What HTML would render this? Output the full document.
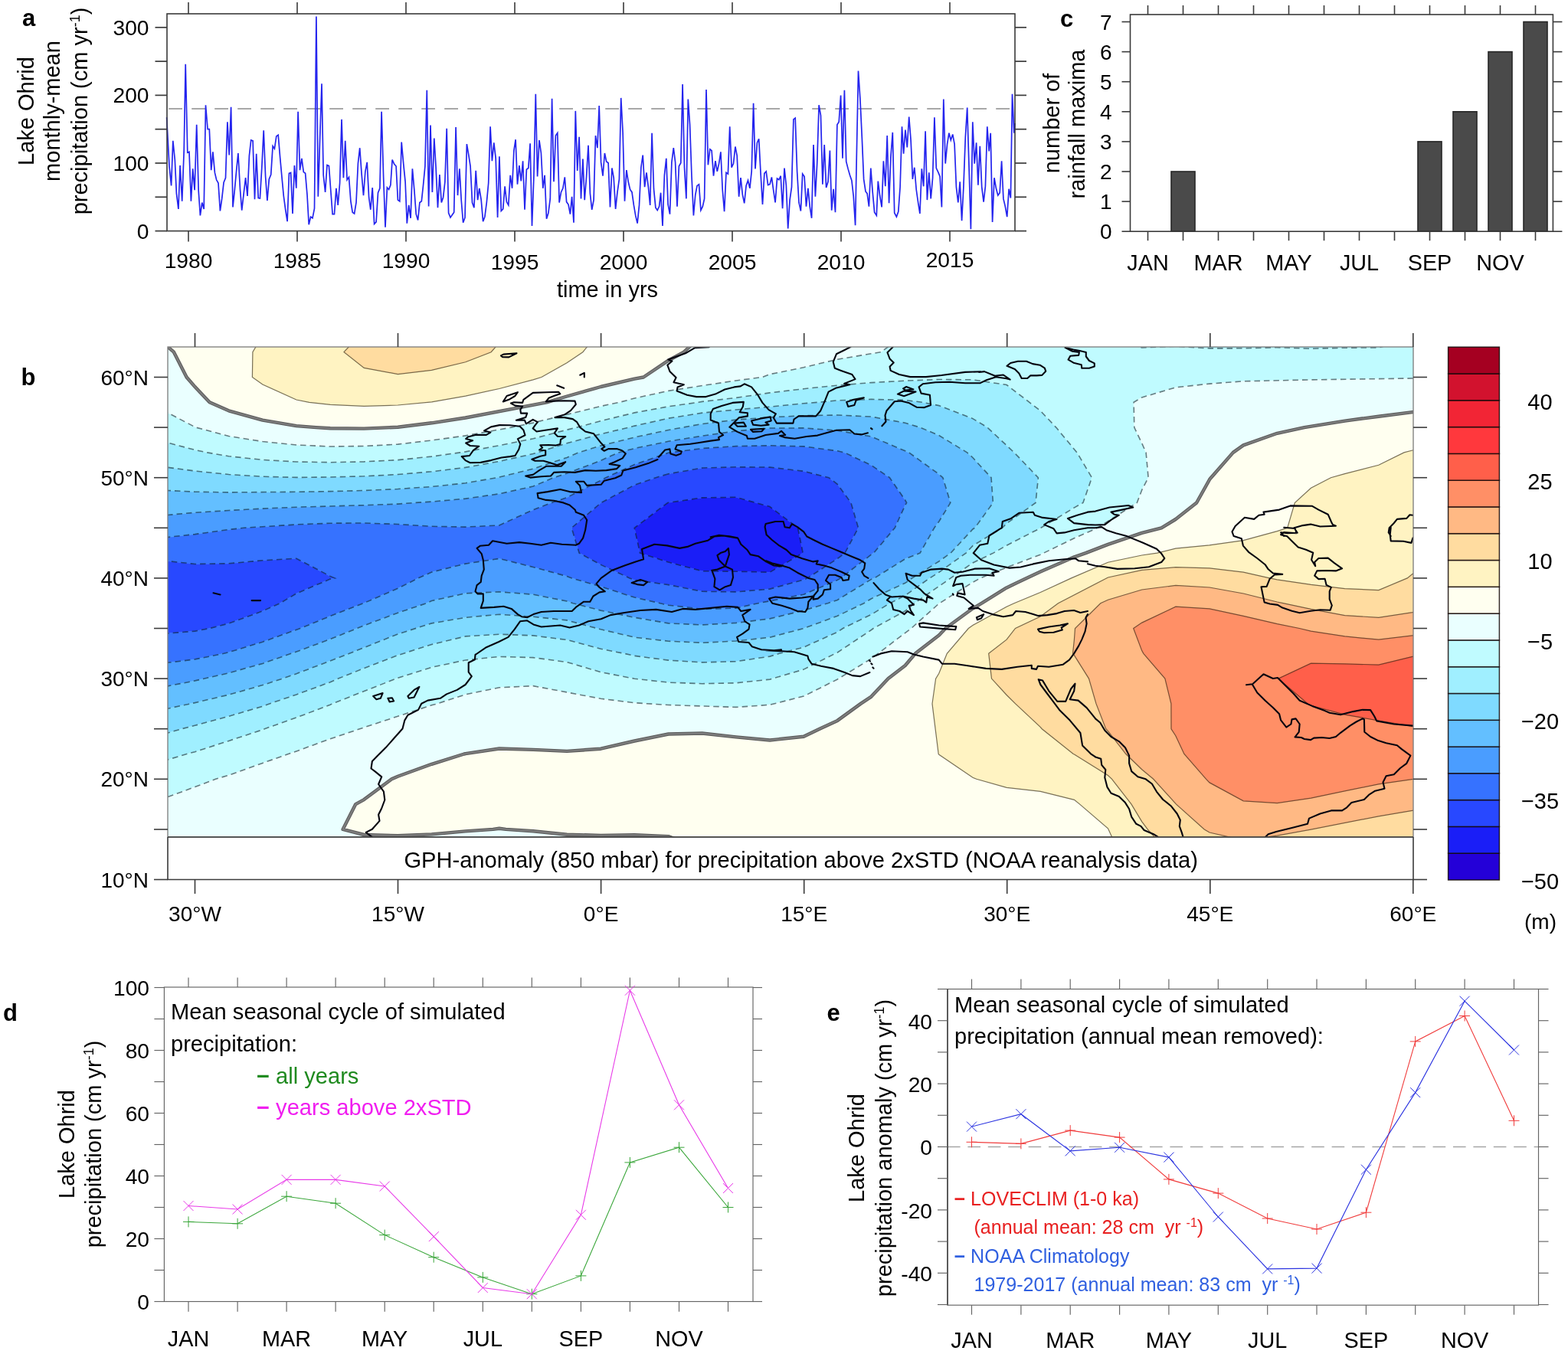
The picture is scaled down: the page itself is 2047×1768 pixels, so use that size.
<!DOCTYPE html>
<html lang="en"><head><meta charset="utf-8"><title>Lake Ohrid precipitation figure</title>
<style>html,body{margin:0;padding:0;background:#fff}body{width:2047px;height:1768px;overflow:hidden}svg{display:block}</style></head>
<body>
<svg width="2047" height="1768" viewBox="0 0 2047 1768" font-family='"Liberation Sans", sans-serif'>
<rect width="2047" height="1768" fill="#fff"/>
<clipPath id="mapclip"><rect x="219.0" y="453.0" width="1626.0" height="640.0"/></clipPath>
<g clip-path="url(#mapclip)">
<rect x="219.0" y="453.0" width="1626.0" height="640.0" fill="#eaffff"/>
<path d="M871.7 656.5L916.8 649.9L960.9 649.3L1005 661.6L1041.6 689.3L1048.2 722.1L1005 747.2L960.9 746.2L916.8 745.7L872.6 734.1L835.5 722.1L828.2 689.3Z" fill="#1a1ef7" stroke="#1a1ef7" stroke-width="0.6" fill-rule="evenodd"/>
<path d="M856.1 623.7L872.6 618.7L916.8 611L960.9 609.8L1005 610.1L1049.2 615.3L1082 623.7L1093.3 632.3L1110.9 656.5L1120.5 689.3L1103 722.1L1093.3 729.5L1054.1 754.9L1049.2 757.1L1005 769.1L960.9 772.9L916.8 772.3L872.6 763.6L828.4 757.5L822.1 754.9L784.3 737.4L756.2 722.1L746.2 689.3L784.6 656.5L828.4 633.2ZM872.6 656.3L871.7 656.5L828.2 689.3L835.5 722.1L872.6 734.1L916.8 745.7L960.9 746.2L1005 747.2L1048.2 722.1L1041.6 689.3L1005 661.6L960.9 649.3L916.8 649.9ZM179.3 754.9L210.3 731.7L254.5 736.5L298.6 735.8L342.8 731.8L386.9 729.2L431.1 752.4L437 754.9L431.1 756.1L386.9 775L365.5 787.7L342.8 797.9L298.6 814.1L273.7 820.5L254.5 824.1L210.3 827.8L183.7 820.5L166.2 811.9L166.2 764.5Z" fill="#2848ff" stroke="#2848ff" stroke-width="0.6" fill-rule="evenodd"/>
<path d="M874.5 590.9L916.8 585.5L960.9 582.6L1005 581.8L1049.2 582.9L1093.3 588.8L1102.3 590.9L1137.5 607.5L1161.4 623.7L1181.7 653L1183.6 656.5L1181.7 659.6L1168.2 689.3L1140.6 722.1L1137.5 724.1L1097.4 754.9L1093.3 757.4L1049.2 776.2L989.7 787.7L960.9 794.1L916.8 795.3L872.6 790.2L828.4 780.1L784.3 765.9L746.5 754.9L740.1 752.5L696 740.5L651.8 729.4L607.7 736.1L563.5 747.1L546.1 754.9L519.4 768.3L474.5 787.7L431.1 804.5L391.9 820.5L342.8 838.2L298.7 851.7L292.2 853.3L254.5 860.9L210.3 866.4L166.2 864.9L166.2 811.9L183.7 820.5L210.3 827.8L254.5 824.1L273.7 820.5L298.6 814.1L342.8 797.9L365.5 787.7L386.9 775L431.1 756.1L437 754.9L431.1 752.4L386.9 729.2L342.8 731.8L298.6 735.8L254.5 736.5L210.3 731.7L166.2 764.5L166.2 708.4L210.3 702.4L254.5 697.6L298.6 691.5L318.4 689.3L386.9 684.9L431.1 683.2L475.2 683L519.4 684.5L563.5 687.3L607.7 688.1L651.8 685.9L696 665.7L719.8 656.5L740.1 649.6L784.3 627.3L790.9 623.7L828.4 606.5L872.6 591.3ZM872.6 618.7L856.1 623.7L828.4 633.2L784.6 656.5L746.2 689.3L756.2 722.1L784.3 737.4L822.1 754.9L828.4 757.5L872.6 763.6L916.8 772.3L960.9 772.9L1005 769.1L1049.2 757.1L1054.1 754.9L1093.3 729.5L1103 722.1L1120.5 689.3L1110.9 656.5L1093.3 632.3L1082 623.7L1049.2 615.3L1005 610.1L960.9 609.8L916.8 611Z" fill="#3672ff" stroke="#3672ff" stroke-width="0.6" fill-rule="evenodd"/>
<path d="M807.4 590.9L828.4 585.5L872.6 576.3L916.8 569.2L960.9 562.8L1005 559L1049.2 558.9L1093.3 562.2L1137.5 570L1186.6 590.9L1225.8 619.2L1230.9 623.7L1240.8 656.5L1225.8 681L1219.7 689.3L1201.1 722.1L1181.7 729.8L1141.6 754.9L1137.5 756.4L1093.3 783.4L1080.6 787.7L1049.2 797.1L1005 807.9L960.9 813.4L916.8 815.9L872.6 813.9L828.4 806.3L784.3 797.1L748.1 787.7L740.1 785L696 776.2L651.8 772.8L607.7 774.8L563.5 784.5L556.7 787.7L519.4 800.2L475.2 816.8L431.1 834.6L386.9 851L342.8 866.4L298.6 878.8L254.5 888.9L210.3 897.6L166.2 901.2L166.2 864.9L210.3 866.4L254.5 860.9L292.2 853.3L298.6 851.7L342.8 838.2L391.9 820.5L431.1 804.5L474.5 787.7L519.4 768.3L546.1 754.9L563.5 747.1L607.7 736.1L651.8 729.4L696 740.5L740.1 752.5L746.5 754.9L784.3 765.9L828.4 780.1L872.6 790.2L916.8 795.3L960.9 794.1L989.7 787.7L1049.2 776.2L1093.3 757.4L1097.4 754.9L1137.5 724.1L1140.6 722.1L1168.2 689.3L1181.7 659.6L1183.6 656.5L1181.7 653L1161.4 623.7L1137.5 607.5L1102.3 590.9L1093.3 588.8L1049.2 582.9L1005 581.8L960.9 582.6L916.8 585.5L874.5 590.9L872.6 591.3L828.4 606.5L790.9 623.7L784.3 627.3L740.1 649.6L719.8 656.5L696 665.7L651.8 685.9L607.7 688.1L563.5 687.3L519.4 684.5L475.2 683L431.1 683.2L386.9 684.9L318.4 689.3L298.6 691.5L254.5 697.6L210.3 702.4L166.2 708.4L166.2 677.1L254.5 669.3L298.6 666.5L342.8 664.1L386.9 662.2L475.2 659.7L519.4 658.1L540.1 656.5L563.5 655.1L607.7 651.1L651.8 644.8L696 635L722.6 623.7L740.1 618.1L784.3 601.3Z" fill="#4a9dff" stroke="#4a9dff" stroke-width="0.6" fill-rule="evenodd"/>
<path d="M890.8 558.1L916.8 553.5L960.9 548.1L1005 544.9L1049.2 542.7L1093.3 542L1137.5 544.1L1181.7 552.2L1201.1 558.1L1225.8 568.5L1262.5 590.9L1269.9 597.5L1294 623.7L1296.4 656.5L1272.7 689.3L1269.9 691L1241.1 722.1L1225.8 733L1190.8 754.9L1181.7 761.3L1137.5 781.7L1127.8 787.7L1093.3 804.3L1049.2 820.5L1005 832.3L960.9 837L916.8 839.3L872.6 837.2L828.5 832.2L784.3 821.8L740.1 809.9L696 805.3L651.8 802.2L607.7 806.3L563.5 813.9L519.4 827.9L456.1 853.3L386.9 879.8L368.7 886.1L342.8 894.6L298.6 907.2L254.5 917.6L210.3 927.1L166.2 935L166.2 901.2L210.3 897.6L254.5 888.9L298.6 878.8L342.8 866.4L386.9 851L431.1 834.6L475.2 816.8L519.4 800.2L556.7 787.7L563.5 784.5L607.7 774.8L651.8 772.8L696 776.2L740.1 785L748.1 787.7L784.3 797.1L828.4 806.3L872.6 813.9L916.8 815.9L960.9 813.4L1005 807.9L1049.2 797.1L1080.6 787.7L1093.3 783.4L1137.5 756.4L1141.6 754.9L1181.7 729.8L1201.1 722.1L1219.7 689.3L1225.8 681L1240.8 656.5L1230.9 623.7L1225.8 619.2L1186.6 590.9L1137.5 570L1093.3 562.2L1049.2 558.9L1005 559L960.9 562.8L916.8 569.2L872.6 576.3L828.4 585.5L807.4 590.9L784.3 601.3L740.2 618.1L722.6 623.7L696 635L651.8 644.8L607.7 651.1L563.5 655.1L540.1 656.5L519.4 658.1L475.2 659.7L386.9 662.2L342.8 664.1L298.6 666.5L254.5 669.3L166.2 677.1L166.2 636.8L210.3 640L254.5 642.2L298.6 642.9L386.9 642.3L431.1 641.6L475.2 640.5L519.4 638.5L563.5 635.5L607.7 630.8L651.8 623.1L696 612.1L740.1 597.4L755.4 590.9L784.3 581.9L828.5 571L872.6 561.5Z" fill="#63bfff" stroke="#63bfff" stroke-width="0.6" fill-rule="evenodd"/>
<path d="M1068.1 525.3L1093.3 522.9L1137.5 521.4L1181.7 522.4L1203.9 525.3L1225.8 529.6L1269.9 546.6L1289 558.1L1324 590.9L1355.4 623.7L1352 656.5L1314.1 683.6L1308.4 689.3L1269.9 712.6L1261.1 722.1L1225.8 747.3L1213.7 754.9L1181.7 777.5L1161.7 787.7L1137.5 802.4L1100.4 820.5L1093.3 825.3L1049.2 845.1L1017.4 853.3L1005 857.1L960.9 863.7L916.8 864.9L872.6 862.1L828.4 856.4L814.8 853.3L784.3 847.3L740.1 835.5L696 829.9L651.8 828.2L607.7 830.9L563.5 841.5L519.4 855.6L475.2 872.6L441.5 886.1L431.1 890.7L386.9 907L351.7 918.9L342.8 922.3L298.6 935.3L254.5 947.3L237.3 951.7L210.3 959.5L166.2 970.9L166.2 935L210.3 927.1L254.5 917.6L298.6 907.2L342.8 894.6L368.7 886.1L386.9 879.8L456.1 853.3L519.4 827.9L563.5 813.9L607.7 806.3L651.8 802.2L696 805.3L740.1 809.9L784.3 821.8L828.5 832.2L872.6 837.2L916.8 839.3L960.9 837L1005 832.3L1049.2 820.5L1093.3 804.3L1127.8 787.7L1137.5 781.7L1181.7 761.3L1190.8 754.9L1225.8 733L1241.1 722.1L1269.9 691L1272.7 689.3L1296.4 656.5L1294 623.7L1269.9 597.5L1262.5 590.9L1225.8 568.5L1201.1 558.1L1181.7 552.2L1137.5 544.1L1093.3 542L1049.2 542.7L1005 544.9L960.9 548.1L916.8 553.5L872.6 561.5L828.4 571L784.3 581.9L755.4 590.9L740.1 597.4L696 612.1L651.8 623.1L607.7 630.8L563.5 635.5L519.4 638.5L475.2 640.5L431.1 641.6L386.9 642.3L298.6 642.9L254.5 642.2L210.3 640L166.2 636.8L166.2 600.4L210.3 609.2L254.5 615L298.6 619.5L342.8 622.3L386.9 623.4L431.1 623L475.2 621.8L519.4 619.5L563.5 615.8L607.7 610.4L651.8 602.4L696 592.6L740.1 578.8L784.3 566.7L821 558.1L828.4 556.1L872.6 546.2L916.8 539.1L960.9 535L1005 531.2L1049.2 526.7Z" fill="#7fdaff" stroke="#7fdaff" stroke-width="0.6" fill-rule="evenodd"/>
<path d="M1406 426.9L1888 426.9L1888 431.3L1843.9 442.3L1799.8 453.9L1755.6 454.2L1711.4 455.3L1667.3 453.7L1623.2 454.8L1579 454.9L1534.8 452.2L1490.7 454L1446.5 441.9ZM912 525.3L916.8 524.4L960.9 519.4L1005 512.9L1049.2 507.7L1093.3 503.2L1137.5 499.6L1181.7 497.2L1225.8 495.5L1269.9 495.8L1314.1 502.5L1358.2 536.3L1378.7 558.1L1406 590.9L1425.4 623.7L1413.9 656.5L1402.4 662.9L1358.8 689.3L1314.1 712.2L1296.7 722.1L1269.9 735L1193.7 787.7L1181.7 797.8L1140.2 820.5L1137.5 822.5L1093.3 852L1090.4 853.3L1049.2 874.1L1005 887.1L960.9 891.8L916.8 892.7L872.6 891.1L828.4 886.2L784.3 877.6L740.1 864.6L696 858.6L651.8 857.4L607.7 862L563.5 871.3L519.4 885.2L433.8 918.9L431.1 920.2L386.9 937L345.4 951.7L342.8 952.8L298.6 967.4L254.5 981.7L243.8 984.5L210.3 994.6L166.2 1010.7L166.2 970.9L210.3 959.5L237.3 951.7L254.5 947.3L298.6 935.3L342.8 922.3L351.7 918.9L386.9 907L431.1 890.7L441.5 886.1L475.2 872.6L519.4 855.6L563.5 841.5L607.7 830.9L651.8 828.2L696 829.9L740.2 835.5L784.3 847.3L814.8 853.3L828.4 856.4L872.6 862.1L916.8 864.9L960.9 863.7L1005 857.1L1017.4 853.3L1049.2 845.1L1093.3 825.3L1100.4 820.5L1137.5 802.4L1161.7 787.7L1181.7 777.5L1213.7 754.9L1225.8 747.3L1261.1 722.1L1269.9 712.6L1308.4 689.3L1314.1 683.6L1352 656.5L1355.4 623.7L1324 590.9L1289 558.1L1269.9 546.6L1225.8 529.6L1203.9 525.3L1181.7 522.4L1137.5 521.4L1093.3 522.9L1068.1 525.3L1049.2 526.7L1005 531.2L960.9 535L916.8 539.1L872.6 546.2L828.4 556.1L821 558.1L784.3 566.7L740.1 578.8L696 592.6L651.8 602.4L607.7 610.4L563.5 615.8L519.4 619.5L475.2 621.8L431.1 623L386.9 623.4L342.8 622.3L298.6 619.5L254.5 615L210.3 609.2L166.2 600.4L166.2 560.6L210.3 575.7L254.5 587.5L270.4 590.9L298.6 595.7L342.8 600.4L386.9 603L431.1 603.7L475.2 602.9L519.4 600.6L563.5 596.1L607.7 589.9L651.8 581.7L696 572.8L740.1 561.2L752.9 558.1L784.3 549.7L828.4 538.9L872.6 530.8Z" fill="#a0efff" stroke="#a0efff" stroke-width="0.6" fill-rule="evenodd"/>
<path d="M1149.8 459.7L1181.7 437.3L1185.3 426.9L1406 426.9L1446.5 441.9L1490.7 454L1534.8 452.2L1579 454.9L1623.2 454.8L1667.3 453.7L1711.4 455.3L1755.6 454.2L1799.8 453.9L1843.9 442.3L1888 431.3L1888.1 488.5L1858.1 492.5L1843.9 494L1711.4 495.9L1623.2 497.8L1579 501.1L1534.8 505.9L1490.7 518.9L1480.1 525.3L1480.8 558.1L1490.7 578.8L1496.1 590.9L1499.1 623.7L1490.7 639.8L1484.3 656.5L1432.8 689.3L1402.4 702.7L1358.2 724.2L1314.1 741L1279.9 754.9L1269.9 760.3L1225.8 788.1L1189.6 820.5L1137.5 860L1093.3 887L1049.2 909.1L1005 920.3L960.9 923.4L872.6 920.5L828.4 917.7L784.3 912.3L696 895.6L651.8 897.8L607.7 906.8L570.5 918.9L563.5 920.8L519.4 935.3L475.2 949.9L431.1 964.8L386.9 980.9L342.8 996.4L298.6 1012.2L281.5 1017.3L254.5 1027.6L210.3 1043.7L199.1 1050.1L180.6 1082.9L166.2 1106.4L166.2 1010.7L210.3 994.6L243.8 984.5L254.5 981.7L298.6 967.4L342.8 952.8L345.4 951.7L386.9 937L431.1 920.2L433.8 918.9L516.9 886.1L563.5 871.3L607.7 862L651.8 857.4L696 858.6L740.1 864.6L784.3 877.6L828.4 886.2L872.6 891.1L916.8 892.7L960.9 891.8L1005 887.1L1049.2 874.1L1090.4 853.3L1093.3 852L1137.5 822.5L1140.2 820.5L1181.7 797.8L1193.7 787.7L1269.9 735L1296.7 722.1L1314.1 712.2L1358.8 689.3L1402.4 662.9L1413.9 656.5L1425.4 623.7L1406 590.9L1378.7 558.1L1358.2 536.3L1314.1 502.5L1269.9 495.8L1225.8 495.5L1181.7 497.2L1137.5 499.6L1093.3 503.2L1049.2 507.7L1005 512.9L960.9 519.4L916.8 524.4L912 525.3L872.6 530.8L828.4 538.9L784.3 549.7L752.9 558.1L740.1 561.2L696 572.8L651.8 581.7L607.7 589.9L563.5 596.1L519.4 600.6L475.2 602.9L431.1 603.7L386.9 603L342.8 600.4L298.6 595.7L270.4 590.9L254.5 587.5L210.3 575.7L166.2 560.6L166.2 501L193.8 525.3L210.3 534.4L254.5 557.6L255.8 558.1L298.6 569.5L342.8 576.5L386.9 581L431.1 583L475.2 582.5L519.4 580.1L563.5 575L607.7 568.9L651.8 560.9L667.3 558.1L696 552.1L784.3 530.4L809 525.3L828.4 520L872.6 510.4L916.8 503.5L960.9 497L995.4 492.5L1005 488.7L1049.2 479.7L1093.3 469.2Z" fill="#c0fbff" stroke="#c0fbff" stroke-width="0.6" fill-rule="evenodd"/>
<path d="M166.2 426.9L190.6 426.9L210.3 445.3L226.9 459.7L243.6 492.5L254.5 505.1L273.6 525.3L298.6 536.3L342.8 548.6L386.9 556.1L412.6 558.1L431.1 559.2L475.2 559.6L519.4 557.7L563.5 552.3L607.7 545.5L713.8 525.3L740.1 517.5L784.3 505L828.4 494.6L840.1 492.5L872.6 470.7L892.8 459.7L916.8 437.2L921.9 426.9L1185.3 426.9L1181.7 437.3L1149.8 459.7L1093.3 469.2L1049.2 479.7L1005 488.7L995.4 492.5L960.9 497L916.8 503.5L872.6 510.4L828.4 520L809 525.3L784.3 530.4L696 552.1L667.3 558.1L607.7 568.9L563.5 575L519.4 580.1L475.2 582.5L431.1 583L386.9 581L342.8 576.5L298.6 569.5L255.8 558.1L254.5 557.6L210.3 534.4L193.8 525.3L166.2 501ZM1858.1 492.5L1888.1 488.5L1888 533.9L1843.9 538.1L1799.8 543.7L1755.6 549.6L1702.8 558.1L1667.3 565.8L1623.2 581.4L1609.8 590.9L1581 623.7L1579 626.2L1562.1 656.5L1534.8 678L1516.2 689.3L1490.7 695.8L1446.6 710.9L1417.4 722.1L1402.4 727.3L1358.2 746.6L1340.1 754.9L1314.1 767.4L1281.6 787.7L1269.9 794.5L1234.3 820.5L1225.8 829.6L1195 853.3L1181.7 869L1159.6 886.1L1137.5 909.6L1123.6 918.9L1093.3 940.9L1070 951.7L1049.2 961.8L1005 966.5L960.9 962.4L916.8 957.5L872.6 958.5L828.4 967.5L784.3 977.7L740.1 980.9L696 978.9L651.8 977.5L607.7 984.1L605.9 984.5L563.5 997.8L519.4 1013.8L511.3 1017.3L475.2 1044.1L464.3 1050.1L447.6 1082.9L475.2 1090L519.4 1091.3L563.5 1089.4L607.7 1085.4L643.6 1082.9L651.8 1081.8L660.4 1082.9L696 1085.3L740.1 1089.7L784.3 1090.9L828.4 1090.1L872.6 1092.1L916.8 1108.7L936.2 1115.7L960.9 1128.4L1002.2 1148.5L166.2 1148.5L166.2 1106.4L180.6 1082.9L199.1 1050.1L210.3 1043.7L254.5 1027.6L281.5 1017.3L298.6 1012.2L342.8 996.4L386.9 980.9L431.1 964.8L475.2 949.9L519.4 935.3L563.5 920.8L570.5 918.9L607.7 906.8L651.8 897.8L696 895.6L784.3 912.3L828.4 917.7L872.6 920.5L960.9 923.4L1005 920.3L1049.2 909.1L1093.3 887L1137.5 860L1189.6 820.5L1225.8 788.1L1269.9 760.3L1279.9 754.9L1314.1 741L1358.2 724.2L1402.4 702.7L1432.8 689.3L1484.3 656.5L1490.7 639.8L1499.1 623.7L1496.1 590.9L1490.7 578.8L1480.8 558.1L1480.1 525.3L1490.7 518.9L1534.8 505.9L1579 501.1L1623.2 497.8L1711.5 495.9L1843.9 494Z" fill="#eaffff" stroke="#eaffff" stroke-width="0.6" fill-rule="evenodd"/>
<path d="M190.6 426.9L345.8 426.9L342.8 438L329.9 459.7L329.4 492.5L342.8 502L386.9 522L403.6 525.3L431.1 528.3L475.2 530.3L519.4 529L563.5 524.9L607.7 517.1L651.8 507.5L696 495.8L706.9 492.5L740.2 473.8L760.9 459.7L784.3 431L802.7 426.9L921.9 426.9L916.8 437.2L892.8 459.7L872.6 470.7L840.1 492.5L828.4 494.6L784.3 505L740.1 517.5L713.8 525.3L607.7 545.5L563.5 552.3L519.4 557.7L475.2 559.6L431.1 559.2L412.6 558.1L386.9 556.1L342.8 548.6L298.6 536.3L273.6 525.3L254.5 505.1L243.6 492.5L226.9 459.7L210.3 445.3ZM1702.8 558.1L1755.6 549.6L1799.8 543.7L1843.9 538.1L1888 533.9L1888 583.6L1843.9 588L1832.9 590.9L1799.8 607.3L1755.6 618.6L1737.4 623.7L1711.4 637.3L1690.3 656.5L1680.7 689.3L1667.3 693.6L1623.2 705.7L1579 711.8L1534.8 716.2L1510.6 722.1L1490.7 725L1446.5 734.2L1398.6 754.9L1358.2 773.5L1323.9 787.7L1314.1 792.3L1269.9 816.4L1264.3 820.5L1236.3 853.3L1225.8 879.2L1221.6 886.1L1217 918.9L1225.2 984.5L1225.8 985.2L1269.9 1015.3L1274.8 1017.3L1314.1 1028.3L1358.2 1033.3L1402.4 1044.4L1409.6 1050.1L1446.5 1081.8L1462 1115.7L1486.6 1148.5L1002.2 1148.5L960.9 1128.4L936.2 1115.7L916.8 1108.7L872.6 1092.1L828.4 1090.1L784.3 1090.9L740.1 1089.7L696 1085.3L660.4 1082.9L651.8 1081.8L643.6 1082.9L607.7 1085.4L563.5 1089.4L519.4 1091.3L475.2 1090L447.6 1082.9L464.3 1050.1L475.2 1044.1L511.3 1017.3L519.4 1013.8L563.5 997.8L605.9 984.5L607.7 984.1L651.8 977.5L696 978.9L740.1 980.9L784.3 977.7L828.4 967.5L872.6 958.5L916.7 957.5L960.9 962.4L1005 966.5L1049.2 961.8L1070 951.7L1093.3 940.9L1123.6 918.9L1137.5 909.6L1159.6 886.1L1181.7 869L1195 853.3L1225.8 829.6L1234.3 820.5L1269.9 794.5L1281.6 787.7L1314.1 767.4L1340.1 754.9L1358.2 746.6L1402.4 727.3L1417.4 722.1L1446.5 710.9L1490.7 695.8L1516.2 689.3L1534.8 678L1562.1 656.5L1579 626.2L1581 623.7L1609.8 590.9L1623.2 581.4L1667.3 565.8Z" fill="#fffff0" stroke="#fffff0" stroke-width="0.6" fill-rule="evenodd"/>
<path d="M329.9 459.7L342.8 438L345.8 426.9L476.2 426.9L475.2 431.6L449 459.7L475.2 480.4L519.4 488.6L563.5 483.4L607.7 472.8L641.2 459.7L651.8 447.5L696 427.3L696.5 426.9L802.7 426.9L784.3 431L760.9 459.7L740.1 473.8L706.9 492.5L696 495.8L651.8 507.5L607.7 517.1L563.6 524.9L519.4 529L475.2 530.3L431.1 528.3L403.6 525.3L386.9 522L342.8 502L329.4 492.5ZM1832.9 590.9L1843.9 588L1888 583.6L1888 722.5L1843.9 749.6L1837.2 754.9L1799.8 770.6L1755.6 768.6L1711.4 763.3L1667.3 756.9L1657.4 754.9L1623.2 747.2L1579 741.9L1534.8 740.7L1490.7 744.3L1446.5 754L1381.4 787.7L1358.2 805L1325.5 820.5L1314.1 835.1L1290.7 853.3L1294.5 886.1L1314.1 907.5L1325.6 918.9L1358.2 949.4L1360.2 951.7L1401.2 984.5L1402.4 985L1446.5 1012.6L1451.6 1017.3L1477 1050.1L1490.7 1072.8L1498.2 1082.9L1527.4 1115.7L1534.8 1122.3L1579 1144.4L1623.2 1147.2L1667.3 1140.9L1711.4 1131.4L1755.6 1122.5L1799.8 1115.2L1843.9 1112.1L1888 1113L1888 1148.5L1486.6 1148.5L1462 1115.7L1446.5 1081.8L1409.6 1050.1L1402.4 1044.4L1358.2 1033.3L1314.1 1028.3L1274.8 1017.3L1269.9 1015.3L1225.8 985.2L1225.2 984.5L1217 918.9L1221.6 886.1L1225.8 879.2L1236.3 853.3L1264.3 820.5L1269.9 816.4L1314.1 792.3L1323.9 787.7L1358.2 773.5L1398.6 754.9L1446.5 734.2L1490.7 725L1510.6 722.1L1534.8 716.2L1579 711.8L1623.2 705.7L1667.3 693.6L1680.7 689.3L1690.3 656.5L1711.4 637.3L1737.4 623.7L1755.6 618.6L1799.8 607.3Z" fill="#fff3c2" stroke="#fff3c2" stroke-width="0.6" fill-rule="evenodd"/>
<path d="M449 459.7L475.2 431.6L476.2 426.9L696.5 426.9L696 427.3L651.8 447.5L641.2 459.7L607.7 472.8L563.5 483.4L519.4 488.6L475.2 480.4ZM1444.5 754.9L1446.5 754L1490.7 744.3L1534.8 740.7L1579 741.9L1623.2 747.2L1657.4 754.9L1667.3 756.9L1711.4 763.3L1755.6 768.6L1799.8 770.6L1837.2 754.9L1843.9 749.6L1888 722.5L1888 790.2L1843.9 799.7L1799.8 806.4L1755.6 803.6L1711.4 795.4L1675.1 787.7L1667.3 786L1623.2 775L1579 767L1534.8 764.4L1490.7 770L1446.5 783.2L1436.7 787.7L1403.5 820.5L1402.4 835.5L1400.5 853.3L1402.4 855.7L1421.5 886.1L1431 918.9L1443.7 951.7L1446.5 954.6L1469.8 984.5L1490.7 1004.7L1505.7 1017.3L1535.5 1050.1L1572.2 1082.9L1579 1087L1623.2 1097.1L1667.3 1091.1L1711.4 1083.1L1799.8 1065.8L1843.9 1058.4L1888 1055.3L1888 1113L1843.9 1112.1L1799.8 1115.2L1755.6 1122.5L1711.4 1131.4L1667.3 1140.9L1623.2 1147.2L1579 1144.4L1534.8 1122.3L1527.4 1115.7L1498.2 1082.9L1490.7 1072.8L1477 1050.1L1451.6 1017.3L1446.5 1012.6L1402.4 985L1401.2 984.5L1360.2 951.7L1358.2 949.4L1325.6 918.9L1314.1 907.5L1294.5 886.1L1290.7 853.3L1314.1 835.1L1325.5 820.5L1358.2 805L1381.4 787.7Z" fill="#ffdca0" stroke="#ffdca0" stroke-width="0.6" fill-rule="evenodd"/>
<path d="M1436.7 787.7L1446.5 783.2L1490.7 770L1534.8 764.4L1579 767L1623.2 775L1667.3 786L1675.1 787.7L1711.4 795.4L1755.6 803.6L1799.8 806.4L1843.9 799.7L1888 790.2L1888.1 826.8L1843.9 829.9L1799.8 835.2L1755.6 830.9L1711.4 824.1L1696.4 820.5L1667.3 814.6L1623.2 804.3L1579 794.9L1534.8 792.2L1490.7 813.1L1479.7 820.5L1490.7 849.6L1492.8 853.3L1520.9 886.1L1528.9 918.9L1529 951.7L1534.8 960.7L1545.9 984.5L1574.6 1017.3L1579 1021.9L1623.2 1045.8L1667.3 1048.6L1711.4 1042.2L1755.6 1032.8L1799.7 1023.9L1888 1011L1888 1055.3L1843.9 1058.4L1799.8 1065.8L1711.4 1083.1L1667.3 1091.1L1623.2 1097.1L1579 1087L1572.2 1082.9L1535.5 1050.1L1505.7 1017.3L1490.7 1004.7L1469.8 984.5L1446.5 954.6L1443.7 951.7L1431 918.9L1421.5 886.1L1402.4 855.7L1400.5 853.3L1402.4 835.5L1403.5 820.5Z" fill="#ffb984" stroke="#ffb984" stroke-width="0.6" fill-rule="evenodd"/>
<path d="M1479.7 820.5L1490.7 813.1L1534.8 792.2L1579 794.9L1623.2 804.3L1667.3 814.6L1696.4 820.5L1711.4 824.1L1755.6 830.9L1799.8 835.2L1843.9 829.9L1888.1 826.8L1888 858.4L1843.9 857.3L1799.8 868.1L1755.6 866.9L1711.4 866.2L1668.7 886.1L1707.3 918.9L1711.4 921.3L1755.6 933.1L1799.8 941L1843.9 948.3L1888 943.4L1888 1011L1799.8 1023.9L1755.6 1032.8L1711.5 1042.2L1667.3 1048.6L1623.2 1045.8L1579 1021.9L1574.6 1017.3L1545.9 984.5L1534.8 960.7L1529 951.7L1528.9 918.9L1520.9 886.1L1492.8 853.3L1490.7 849.6Z" fill="#ff8f66" stroke="#ff8f66" stroke-width="0.6" fill-rule="evenodd"/>
<path d="M1668.7 886.1L1711.4 866.2L1755.6 866.9L1799.8 868.1L1843.9 857.3L1888 858.4L1888 943.4L1843.9 948.3L1799.8 941L1755.6 933.1L1711.4 921.3L1707.3 918.9Z" fill="#ff5f4a" stroke="#ff5f4a" stroke-width="0.6" fill-rule="evenodd"/>
<path d="M872.6 656.3L871.7 656.5L828.2 689.3L835.5 722.1L872.6 734.1L916.8 745.7L960.9 746.2L1005 747.2L1048.2 722.1L1041.6 689.3L1005 661.6L960.9 649.3L916.8 649.9L872.6 656.3" fill="none" stroke="#001018" stroke-width="1.6" stroke-dasharray="7.5 5" stroke-opacity="0.55"/>
<path d="M872.6 618.7L856.1 623.7L828.4 633.2L784.6 656.5L746.2 689.3L756.2 722.1L784.3 737.4L822.1 754.9L828.4 757.5L872.6 763.6L916.8 772.3L960.9 772.9L1005 769.1L1049.2 757.1L1054.1 754.9L1093.3 729.5L1103 722.1L1120.5 689.3L1110.9 656.5L1093.3 632.3L1082 623.7L1049.2 615.3L1005 610.1L960.9 609.8L916.8 611L872.6 618.7M166.2 811.9L183.7 820.5L210.3 827.8L254.5 824.1L273.7 820.5L298.6 814.1L342.8 797.9L365.5 787.7L386.9 775L431.1 756.1L437 754.9L431.1 752.4L386.9 729.2L342.8 731.8L298.6 735.8L254.5 736.5L210.3 731.7L166.2 764.5" fill="none" stroke="#001018" stroke-width="1.6" stroke-dasharray="7.5 5" stroke-opacity="0.55"/>
<path d="M166.2 864.9L210.3 866.4L254.5 860.9L292.2 853.3L298.6 851.7L342.8 838.2L391.9 820.5L431.1 804.5L474.5 787.7L519.4 768.3L546.1 754.9L563.5 747.1L607.7 736.1L651.8 729.4L696 740.5L740.1 752.5L746.5 754.9L784.3 765.9L828.4 780.1L872.6 790.2L916.8 795.3L960.9 794.1L989.7 787.7L1049.2 776.2L1093.3 757.4L1097.4 754.9L1137.5 724.1L1140.6 722.1L1168.2 689.3L1181.7 659.6L1183.6 656.5L1181.7 653L1161.4 623.7L1137.5 607.5L1102.3 590.9L1093.3 588.8L1049.2 582.9L1005 581.8L960.9 582.6L916.8 585.5L874.5 590.9L872.6 591.3L828.4 606.5L790.9 623.7L784.3 627.3L740.1 649.6L719.8 656.5L696 665.7L651.8 685.9L607.7 688.1L563.5 687.3L519.4 684.5L475.2 683L431.1 683.2L386.9 684.9L318.4 689.3L298.6 691.5L254.5 697.6L210.3 702.4L166.2 708.4" fill="none" stroke="#001018" stroke-width="1.6" stroke-dasharray="7.5 5" stroke-opacity="0.55"/>
<path d="M166.2 901.2L210.3 897.6L254.5 888.9L298.6 878.8L342.8 866.4L386.9 851L431.1 834.6L475.2 816.8L519.4 800.2L556.7 787.7L563.5 784.5L607.7 774.8L651.8 772.8L696 776.2L740.1 785L748.1 787.7L784.3 797.1L828.4 806.3L872.6 813.9L916.8 815.9L960.9 813.4L1005 807.9L1049.2 797.1L1080.6 787.7L1093.3 783.4L1137.5 756.4L1141.6 754.9L1181.7 729.8L1201.1 722.1L1219.7 689.3L1225.8 681L1240.8 656.5L1230.9 623.7L1225.8 619.2L1186.6 590.9L1137.5 570L1093.3 562.2L1049.2 558.9L1005 559L960.9 562.8L916.8 569.2L872.6 576.3L828.4 585.5L807.4 590.9L784.3 601.3L740.2 618.1L722.6 623.7L696 635L651.8 644.8L607.7 651.1L563.5 655.1L540.1 656.5L519.4 658.1L475.2 659.7L386.9 662.2L342.8 664.1L298.6 666.5L254.5 669.3L166.2 677.1" fill="none" stroke="#001018" stroke-width="1.6" stroke-dasharray="7.5 5" stroke-opacity="0.55"/>
<path d="M166.2 935L210.3 927.1L254.5 917.6L298.6 907.2L342.8 894.6L368.7 886.1L386.9 879.8L456.1 853.3L519.4 827.9L563.5 813.9L607.7 806.3L651.8 802.2L696 805.3L740.1 809.9L784.3 821.8L828.5 832.2L872.6 837.2L916.8 839.3L960.9 837L1005 832.3L1049.2 820.5L1093.3 804.3L1127.8 787.7L1137.5 781.7L1181.7 761.3L1190.8 754.9L1225.8 733L1241.1 722.1L1269.9 691L1272.7 689.3L1296.4 656.5L1294 623.7L1269.9 597.5L1262.5 590.9L1225.8 568.5L1201.1 558.1L1181.7 552.2L1137.5 544.1L1093.3 542L1049.2 542.7L1005 544.9L960.9 548.1L916.8 553.5L872.6 561.5L828.4 571L784.3 581.9L755.4 590.9L740.1 597.4L696 612.1L651.8 623.1L607.7 630.8L563.5 635.5L519.4 638.5L475.2 640.5L431.1 641.6L386.9 642.3L298.6 642.9L254.5 642.2L210.3 640L166.2 636.8" fill="none" stroke="#001018" stroke-width="1.6" stroke-dasharray="7.5 5" stroke-opacity="0.55"/>
<path d="M166.2 970.9L210.3 959.5L237.3 951.7L254.5 947.3L298.6 935.3L342.8 922.3L351.7 918.9L386.9 907L431.1 890.7L441.5 886.1L475.2 872.6L519.4 855.6L563.5 841.5L607.7 830.9L651.8 828.2L696 829.9L740.2 835.5L784.3 847.3L814.8 853.3L828.4 856.4L872.6 862.1L916.8 864.9L960.9 863.7L1005 857.1L1017.4 853.3L1049.2 845.1L1093.3 825.3L1100.4 820.5L1137.5 802.4L1161.7 787.7L1181.7 777.5L1213.7 754.9L1225.8 747.3L1261.1 722.1L1269.9 712.6L1308.4 689.3L1314.1 683.6L1352 656.5L1355.4 623.7L1324 590.9L1289 558.1L1269.9 546.6L1225.8 529.6L1203.9 525.3L1181.7 522.4L1137.5 521.4L1093.3 522.9L1068.1 525.3L1049.2 526.7L1005 531.2L960.9 535L916.8 539.1L872.6 546.2L828.4 556.1L821 558.1L784.3 566.7L740.1 578.8L696 592.6L651.8 602.4L607.7 610.4L563.5 615.8L519.4 619.5L475.2 621.8L431.1 623L386.9 623.4L342.8 622.3L298.6 619.5L254.5 615L210.3 609.2L166.2 600.4" fill="none" stroke="#001018" stroke-width="1.6" stroke-dasharray="7.5 5" stroke-opacity="0.55"/>
<path d="M1406 426.9L1446.5 441.9L1490.7 454L1534.8 452.2L1579 454.9L1623.2 454.8L1667.3 453.7L1711.4 455.3L1755.6 454.2L1799.8 453.9L1843.9 442.3L1888 431.3M166.2 1010.7L210.3 994.6L243.8 984.5L254.5 981.7L298.6 967.4L342.8 952.8L345.4 951.7L386.9 937L431.1 920.2L433.8 918.9L519.4 885.2L563.5 871.3L607.7 862L651.8 857.4L696 858.6L740.1 864.6L784.3 877.6L828.4 886.2L872.6 891.1L916.8 892.7L960.9 891.8L1005 887.1L1049.2 874.1L1090.4 853.3L1093.3 852L1137.5 822.5L1140.2 820.5L1181.7 797.8L1193.7 787.7L1269.9 735L1296.7 722.1L1314.1 712.2L1358.8 689.3L1402.4 662.9L1413.9 656.5L1425.4 623.7L1406 590.9L1378.7 558.1L1358.2 536.3L1314.1 502.5L1269.9 495.8L1225.8 495.5L1181.7 497.2L1137.5 499.6L1093.3 503.2L1049.2 507.7L1005 512.9L960.9 519.4L916.8 524.4L912 525.3L872.6 530.8L828.4 538.9L784.3 549.7L752.9 558.1L740.1 561.2L696 572.8L651.8 581.7L607.7 589.9L600.9 590.9L563.5 596.1L519.4 600.6L475.2 602.9L431.1 603.7L386.9 603L342.8 600.4L298.6 595.7L270.4 590.9L254.5 587.5L210.3 575.7L166.2 560.6" fill="none" stroke="#001018" stroke-width="1.6" stroke-dasharray="7.5 5" stroke-opacity="0.55"/>
<path d="M1185.3 426.9L1181.7 437.3L1149.8 459.7L1093.3 469.2L1049.2 479.7L1005 488.7L995.4 492.5L960.9 497L916.8 503.5L872.6 510.4L828.4 520L809 525.3L784.3 530.4L696 552.1L667.3 558.1L607.7 568.9L563.5 575L519.4 580.1L475.2 582.5L431.1 583L386.9 581L342.8 576.5L298.6 569.5L255.8 558.1L254.5 557.6L210.3 534.4L193.8 525.3L166.2 501M166.2 1106.4L180.6 1082.9L199.1 1050.1L210.3 1043.7L254.5 1027.6L281.5 1017.3L298.6 1012.2L342.8 996.4L386.9 980.9L431.1 964.8L475.2 949.9L519.4 935.3L563.5 920.8L570.5 918.9L607.7 906.8L651.8 897.8L696 895.6L784.3 912.3L828.4 917.7L872.6 920.5L960.9 923.4L1005 920.3L1049.2 909.1L1093.3 887L1137.5 860L1189.6 820.5L1225.8 788.1L1269.9 760.3L1279.9 754.9L1314.1 741L1358.2 724.2L1402.4 702.7L1432.8 689.3L1484.3 656.5L1490.7 639.8L1499.1 623.7L1496.1 590.9L1490.7 578.8L1480.8 558.1L1480.1 525.3L1490.7 518.9L1534.8 505.9L1579 501.1L1623.2 497.8L1711.5 495.9L1843.9 494L1858.1 492.5L1888 488.5" fill="none" stroke="#001018" stroke-width="1.6" stroke-dasharray="7.5 5" stroke-opacity="0.55"/>
<path d="M921.9 426.9L916.8 437.2L892.8 459.7L872.6 470.7L840.1 492.5L828.4 494.6L784.3 505L740.1 517.5L713.8 525.3L607.7 545.5L563.5 552.3L519.4 557.7L475.2 559.6L431.1 559.2L412.6 558.1L386.9 556.1L342.8 548.6L298.6 536.3L273.6 525.3L254.5 505.1L243.6 492.5L226.9 459.7L210.3 445.3L190.6 426.9M1002.2 1148.5L960.9 1128.4L936.2 1115.7L916.8 1108.7L872.6 1092.1L828.4 1090.1L784.3 1090.9L740.1 1089.7L696 1085.3L660.4 1082.9L651.8 1081.8L643.6 1082.9L607.7 1085.4L563.5 1089.4L519.4 1091.3L475.2 1090L447.6 1082.9L464.3 1050.1L475.2 1044.1L511.3 1017.3L519.4 1013.8L563.5 997.8L605.9 984.5L607.7 984.1L651.8 977.5L696 978.9L740.1 980.9L784.3 977.7L828.4 967.5L872.6 958.5L916.7 957.5L960.9 962.4L1005 966.5L1049.2 961.8L1070 951.7L1093.3 940.9L1123.6 918.9L1137.5 909.6L1159.6 886.1L1181.7 869L1195 853.3L1225.8 829.6L1234.3 820.5L1269.9 794.5L1281.6 787.7L1314.1 767.4L1340.1 754.9L1358.2 746.6L1402.4 727.3L1417.4 722.1L1446.5 710.9L1490.7 695.8L1516.2 689.3L1534.8 678L1562.1 656.5L1579 626.2L1581 623.7L1609.8 590.9L1623.2 581.4L1667.3 565.8L1702.8 558.1L1755.6 549.6L1799.8 543.7L1843.9 538.1L1888 533.9" fill="none" stroke="#5a5a5a" stroke-width="4.4" stroke-linejoin="round"/>
<path d="M921.9 426.9L916.8 437.2L892.8 459.7L872.6 470.7L840.1 492.5L828.4 494.6L784.3 505L740.1 517.5L713.8 525.3L607.7 545.5L563.5 552.3L519.4 557.7L475.2 559.6L431.1 559.2L412.6 558.1L386.9 556.1L342.8 548.6L298.6 536.3L273.6 525.3L254.5 505.1L243.6 492.5L226.9 459.7L210.3 445.3L190.6 426.9M1002.2 1148.5L960.9 1128.4L936.2 1115.7L916.8 1108.7L872.6 1092.1L828.4 1090.1L784.3 1090.9L740.1 1089.7L696 1085.3L660.4 1082.9L651.8 1081.8L643.6 1082.9L607.7 1085.4L563.5 1089.4L519.4 1091.3L475.2 1090L447.6 1082.9L464.3 1050.1L475.2 1044.1L511.3 1017.3L519.4 1013.8L563.5 997.8L605.9 984.5L607.7 984.1L651.8 977.5L696 978.9L740.1 980.9L784.3 977.7L828.4 967.5L872.6 958.5L916.7 957.5L960.9 962.4L1005 966.5L1049.2 961.8L1070 951.7L1093.3 940.9L1123.6 918.9L1137.5 909.6L1159.6 886.1L1181.7 869L1195 853.3L1225.8 829.6L1234.3 820.5L1269.9 794.5L1281.6 787.7L1314.1 767.4L1340.1 754.9L1358.2 746.6L1402.4 727.3L1417.4 722.1L1446.5 710.9L1490.7 695.8L1516.2 689.3L1534.8 678L1562.1 656.5L1579 626.2L1581 623.7L1609.8 590.9L1623.2 581.4L1667.3 565.8L1702.8 558.1L1755.6 549.6L1799.8 543.7L1843.9 538.1L1888 533.9" fill="none" stroke="#7c7c7c" stroke-width="2.4" stroke-linejoin="round"/>
<path d="M802.7 426.9L784.3 431L760.9 459.7L740.1 473.8L706.9 492.5L696 495.8L651.8 507.5L607.7 517.1L563.6 524.9L519.4 529L475.2 530.3L431.1 528.3L403.6 525.3L386.9 522L342.8 502L329.4 492.5L329.9 459.7L342.8 438L345.8 426.9M1486.6 1148.5L1462 1115.7L1446.5 1081.8L1409.6 1050.1L1402.4 1044.4L1358.2 1033.3L1314.1 1028.3L1274.8 1017.3L1269.9 1015.3L1225.8 985.2L1225.2 984.5L1217 918.9L1221.6 886.1L1225.8 879.2L1236.3 853.3L1264.3 820.5L1269.9 816.4L1314.1 792.3L1323.9 787.7L1358.2 773.5L1398.6 754.9L1446.5 734.2L1490.7 725L1510.6 722.1L1534.8 716.2L1579 711.8L1623.2 705.7L1667.3 693.6L1680.7 689.3L1690.3 656.5L1711.4 637.3L1737.4 623.7L1755.6 618.6L1799.8 607.3L1832.9 590.9L1843.9 588L1888 583.6" fill="none" stroke="#201808" stroke-width="1.2" stroke-opacity="0.6"/>
<path d="M696.5 426.9L696 427.3L651.8 447.5L641.2 459.7L607.7 472.8L563.5 483.4L519.4 488.6L475.2 480.4L449 459.7L475.2 431.6L476.2 426.9M1888 1113L1843.9 1112.1L1799.8 1115.2L1755.6 1122.5L1711.4 1131.4L1667.3 1140.9L1623.2 1147.2L1579 1144.4L1534.8 1122.3L1527.4 1115.7L1498.2 1082.9L1490.7 1072.8L1477 1050.1L1451.6 1017.3L1446.5 1012.6L1402.4 985L1401.2 984.5L1360.2 951.7L1358.2 949.4L1325.6 918.9L1314.1 907.5L1294.5 886.1L1290.7 853.3L1314.1 835.1L1325.5 820.5L1358.2 805L1381.4 787.7L1446.5 754L1490.7 744.3L1534.8 740.7L1579 741.9L1623.2 747.2L1657.4 754.9L1667.3 756.9L1711.4 763.3L1755.6 768.6L1799.8 770.6L1837.2 754.9L1843.9 749.6L1888 722.5" fill="none" stroke="#201808" stroke-width="1.2" stroke-opacity="0.6"/>
<path d="M1888 1055.3L1843.9 1058.4L1799.8 1065.8L1711.4 1083.1L1667.3 1091.1L1623.2 1097.1L1579 1087L1572.2 1082.9L1535.5 1050.1L1505.7 1017.3L1490.7 1004.7L1469.8 984.5L1446.5 954.6L1443.7 951.7L1431 918.9L1421.5 886.1L1402.4 855.7L1400.5 853.3L1402.4 835.5L1403.5 820.5L1436.7 787.7L1446.5 783.2L1490.7 770L1534.8 764.4L1579 767L1623.2 775L1667.3 786L1675.1 787.7L1711.4 795.4L1755.6 803.6L1799.8 806.4L1843.9 799.7L1888.1 790.2" fill="none" stroke="#201808" stroke-width="1.2" stroke-opacity="0.6"/>
<path d="M1888 1011L1799.8 1023.9L1755.6 1032.8L1711.5 1042.2L1667.3 1048.6L1623.2 1045.8L1579 1021.9L1574.6 1017.3L1545.9 984.5L1534.8 960.7L1529 951.7L1528.9 918.9L1520.9 886.1L1492.8 853.3L1490.7 849.6L1479.7 820.5L1490.7 813.1L1534.8 792.2L1579 794.9L1623.2 804.3L1667.3 814.6L1696.4 820.5L1711.4 824.1L1755.6 830.9L1799.8 835.2L1843.9 829.9L1888.1 826.8" fill="none" stroke="#201808" stroke-width="1.2" stroke-opacity="0.6"/>
<path d="M1888 943.4L1843.9 948.3L1799.8 941L1755.6 933.1L1711.4 921.3L1707.3 918.9L1668.7 886.1L1711.4 866.2L1755.6 866.9L1799.8 868.1L1843.9 857.3L1888 858.4" fill="none" stroke="#201808" stroke-width="1.2" stroke-opacity="0.6"/>
<path d="M602.7 596.1L607.5 601.1L613.7 604.3L627.4 603.9L641 601.1L654.7 597.5L665.7 596.1L672.5 595L677.3 586.8L679.3 579.9L675.9 573.1L685.5 568.3L683.4 561.5L678.7 556.7L665.7 555.3L652 555.1L641 557.4L632.1 562.4L640.4 564.6L634.9 567.9L620.5 567.9L610.9 570.4L608.2 573.1L617.1 575.2L608.2 578.6L613.7 582L625.3 582.7L617.8 588.2L613 595ZM683.4 521.8L695.7 512.9L713.5 512.2L729.3 511.8L731.3 514.3L723.1 517L716.3 519.8L712.8 524.5L723.1 523.6L736.8 523.2L750.5 523.6L751.8 528L745 536.2L736.8 541.6L724.5 545.1L736.8 545.1L747.7 547.1L753.2 551.2L757.3 558.1L764.1 563.5L775.1 566.3L779.2 571.7L784.7 578.6L789.4 583.4L785.3 586.1L788.8 588.8L794.2 586.1L805.2 586.1L812 588.2L816.8 592.3L812.7 598.4L802.4 603.2L795.6 605.9L809.3 608L805.2 612.1L791.5 614.1L777.8 614.8L764.1 614.1L750.5 616.9L736.8 616.2L723.1 616.9L720.4 620M683.4 521.8L682.1 525.9L671.1 525.2L667 526.6L672.5 529.6L682.1 530.7L679.3 534.8L680 539.6L688.2 539.6L686.2 545.1L673.9 548.8L684.8 548.5L686.9 553.3L695.7 547.8L701.9 551.2L698.5 555.3L695.7 559.4L700.5 563.5L713.5 561.5L727.9 559.4L723.8 565.6L727.9 569.7L738.2 570.1L732 573.8L731.3 579.9L725.8 581.6L716.3 581L705.3 581.3L708.1 584.7L704 587.5L712.2 588.2L712.2 594.3L705.3 595.7L694.4 599.8L698.5 601.8L709.4 601.8L719 604.6L727.2 607.3L738.2 603.2L732.7 608.7L723.1 608.7L713.5 608.7L704 614.1L695.7 620M656.8 524.5L661.6 517L675.9 512.2L672.5 517L664.3 521.8ZM654 464.4L657.4 462.6L674.5 461.2L664.3 466.4L656.1 466.1ZM757.3 489.7L762.8 486.9L762.8 492.4M727.2 503.3L736.1 506.8M925.7 453.1L907.2 454.1L894.9 461.3L872.3 469.5L877.4 471.5L871.3 476.7L874.4 484.9L882.6 493.1L879.5 499.2L892.8 502.3L884.6 505.4L883.6 510.5L896.9 515.7L909.2 518.1L921.6 518.1L933.9 514.6L946.2 508.5L958.5 505.4L966.7 504.4L971.8 501.3L981.1 505.4L989.3 515.7L995.4 525.9L1003.6 535.1L1012.9 540.3L1009.8 545.4L1013.9 552.6L1035.4 552.6L1036.5 547.5L1042.6 543.4L1065.2 543.4L1071.3 536.2L1077.5 521.8L1081.6 511.6L1091.9 506.4L1109.3 502.3L1102.1 500.9L1116.5 495.1L1112.4 489L1098 483.9L1089.8 480.8L1087.7 472.6L1091.9 462.3L1102.1 457.2L1110.3 453.1M1165.7 453.1L1158.5 460.3L1161.6 468.5L1166.7 473.6L1161.6 478.7L1162.6 483.9L1173.9 489L1188.3 492.1L1208.8 492.1L1229.3 490L1260.1 485.9L1280 485.3M1280 500.3L1260.1 500.3L1239.6 498.8L1221.1 499.2L1204.7 501.3L1199.6 505.4L1202.6 513.6L1213.9 515.7L1215 529L1206.8 532.1L1196.5 531.7L1186.2 525.9L1176 523.5L1167.8 524.3L1157.5 536.2L1155.5 542.3L1156.5 550.5L1151.4 556.3M1105.2 524.9L1114.4 521.8L1127.8 519.4L1117.5 522.8L1115.4 529L1107.2 531ZM1171.9 514.6L1180.1 510.5L1195.5 511.6L1180.1 517.3ZM1179.1 507.4L1183.2 505L1192.4 508.5L1182.1 509.5ZM1137 559.2L1138.6 560.4M927.7 540.3L930.8 534.1L942.1 530L956.4 525.9L970.8 524.9L969.8 531L965.7 538.2L975.9 539.3L975.9 543.4L964.6 545.4L958.5 551.6L952.3 557.7L962.6 563.9L974.9 569L975.9 572.7L985.2 572.7L999.5 568L1015.9 565.9L1020 562.8L1025.2 568L1018 569L1024.1 571.1L1037.5 572.7L1052.9 570L1067.2 568.6L1081.6 564.5L1091.9 561.8L1109.3 561.2L1115.4 566.5L1124.7 567.4L1132.9 565.3M927.7 540.3L927.7 548.5L938 552.6L939 563.9L944.1 568L938 571.1L939 574.1L927.7 575.6L911.3 578.2L901 579.7L883.6 581.3L881.5 586.4L889.8 589.5L888.7 592.6L882.6 594.7L875.4 592.6L874.4 586.4L868.2 587.5L860 596.7M958.5 552.6L970.8 551.6L973.9 556.7L962.6 556.7ZM981.1 549.5L993.4 546.4L1005.7 544.4L1006.7 549.5L999.5 551.6L1003.6 554.6L993.4 555.7L983.1 554.6ZM980 560.8L997.5 559.8L994.4 563.3L983.1 563.9ZM695.6 619.9L686.2 621.5L692.3 623.6L706.7 622.2L719 621.5L720.4 619.9M858.5 600L846.2 605.1L829.8 610.3L813.4 614.4L811.3 620.5L803.1 624.2L788.8 627.7L784.7 632.8L766.2 633.9L762.1 628.7L751.8 628.7L757 633.9L759 643.1L743.6 642.1L731.3 639L714.9 642.1L701.6 644.1L702.6 650.3L712.8 652.9L723.1 653.8L735.4 656.4L743.6 659.5L750.8 665.7L751.8 668.7L762.1 672.8L766.2 679L764.1 692.3L761.1 702.6L755.9 709.8L751.8 711.8M751.8 711.8L733.4 710.8L719 708.7L706.7 711.8L692.3 709.8L678 708.1L661.6 709.8L643.1 706.3L638 711.8L626.7 712.8L622.6 715.9L628.7 723.1L630.8 731.3L631.8 743.6L628.7 751.8L627.7 760L622.6 764.1L620.5 772.3L623.6 775.4L630.8 775.4L630.8 784.7L627.7 793.9L645.1 792.9L657.4 791.8L667.7 794.9L675.9 802.1L681 805.2L688.2 806.2L696.4 802.1L706.7 799L723.1 798L746.7 798L751.8 792.9L762.1 785.7L770.3 785.7L774.4 778.5L782.6 773.4L789.8 772.3L781.6 766.2L778.5 762.1L784.7 754.9L799 744.7L815.4 738.5L829.8 733.4L840.1 730.3L838 717L854.4 710.8L870.8 712.4L887.2 715.9L897.5 713.9L907.8 709.8L924.2 705.7L932.4 700.5L944.7 699.5L963.2 702.6L967.3 710.8L975.5 718L979.6 724.1L989.8 726.2L1000.1 733.4L1010.4 738.5L1020 739.5M950.9 715.9L951.9 724.1L948.8 733.4L946.8 739.5L938.5 731.3L936.5 725.2L940.6 722.1L946.8 720ZM946.8 739.5L956 743.6L957 753.9L953.9 764.1L946.8 766.2L939.6 770.3L932.4 766.2L933.4 755.9L929.3 744.7L936.5 743.6ZM824.7 761.1L836 757L845.2 760L840.1 764.1L831.9 763.1ZM620.5 855L634.9 845.2L651.3 838L663.6 831.9L671.8 821.6L679 811.3L688.2 810.3L696.4 815.4L706.7 818.5L719 817.5L731.3 816.5L743.6 819.5L755.9 816.5L768.2 811.3L784.7 808.3L797 803.1L815.4 800L836 797L856.5 795.9L877 799L891.4 794.9L907.8 795.9L928.3 793.9L948.8 791.8L963.2 792.9L967.3 798L979.6 795.9L969.3 803.1L972.4 811.3L978.6 815.4L977.5 821.6L969.3 827.7L962.1 831.9L964.2 838L977.5 839L981.6 844.2L993.9 848.3L1010.4 849.3L1020 848.3M927.7 701.3L938 698.9L952.3 700.3L962.6 702.4M1000.6 698.3L998.6 688L999.6 683.9L1012.3 681L1022.6 681L1024.6 688.2L1030.8 689.2L1033.9 684.1L1041 688.2L1049.2 694.4L1053.3 700.5L1063.6 705.7L1073.9 710.8L1086.2 715.9L1098.5 721L1110.8 726.2L1123.1 731.3L1129.3 735.4L1128.2 742.6L1125.2 746.7L1128.2 751.8L1133.4 754.9M1000.6 698.3L1007.8 705L1016.4 711.8L1026.7 718L1032.8 724.1L1047.2 729.3L1061.6 733.4L1067.7 732.3L1065.7 736.4L1075.9 738.5L1086.2 741.6L1098.5 746.7L1108.7 751.8L1107.7 757L1100.5 758L1098.5 753.9L1090.3 750.8L1082.1 750.8L1078 758L1084.1 763.1L1084.1 769.3L1075.9 770.3L1073.9 776.4L1067.7 781.6L1061.6 782.6L1062.6 777.5L1067.7 771.3L1067.7 763.1L1063.6 757L1055.4 754.9L1041 747.7L1030.8 741.6L1020.5 738.5L1008.2 735.4L1000 732.3M1004.1 781.6L1012.3 779.5L1030.8 781.6L1047.2 780.5L1061.6 778.5L1055.4 785.7L1054.4 793.9L1051.3 799L1041 798L1030.8 793.9L1020.5 790.8L1008.2 787.7ZM1140.5 761.1L1147.7 769.3L1155.9 776.4L1164.1 779.5L1178.5 778.5L1184.7 781.6L1192.9 789.8L1186.7 790.8L1188.8 797L1192.9 803.1L1184.7 798L1180.6 802.1L1174.4 798L1166.2 795.9L1164.1 787.7L1158 783.6L1162.1 779.5M1178.5 778.5L1192.9 781.6L1205.2 783.6L1209.3 786.7L1210.3 779.5L1217.5 781.6L1207.2 775.4L1201.1 769.3L1192.9 763.1L1184.7 757L1182.6 748.7L1190.8 751.8L1201.1 751.8L1203.1 747.7L1215.4 743.6L1229.8 742.6L1238 743.6L1246.2 747.7L1256.5 746.7L1272.9 742.6L1291.4 742.2L1303.7 746.3L1295.5 747.7L1297.5 751.8L1287.2 750.8L1266.7 750.8L1254.4 751.8L1248.3 753.9L1244.2 765.2L1248.3 763.1L1256.5 762.1L1258.5 771.3L1259.6 776.4L1250.3 774.4L1249.3 777.9L1258.5 780.5L1264.7 785.7L1270.8 790.8L1264.7 794.9L1277 793.9L1283.1 798L1295.5 802.1L1309.8 805.2L1322.1 803.1L1326.2 798L1338.5 799L1348.8 802.1L1355 804.1L1367.3 803.1L1379.6 801.1L1389.8 798L1402.1 797L1410.4 800L1420 798M1420 733.4L1408.3 732.3L1404.2 729.3L1389.8 730.3L1369.3 732.3L1348.8 736.4L1332.4 740.5L1318 741.6L1297.5 737.5L1281.1 731.3L1270.8 722.1L1279 711.8L1289.3 709.8L1291.4 699.5L1307.8 689.2L1308.8 681L1320.1 676.9L1330.3 669.8L1348.8 668.7L1350.9 672.8L1361.1 675.9L1379.6 678L1369.3 681L1363.2 685.1L1375.5 690.3L1379.6 696.4L1389.8 695.4L1402.1 692.3L1420 689.2M1420 668.7L1406.3 672.8L1393.9 676.9L1402.1 683.1L1420 685.1M1200 814.4L1205.2 813.4L1225.7 816.5L1248.3 818.1L1247.2 822.2L1225.7 820.6L1201.1 818.5ZM1274.9 806.2L1284.2 802.1L1281.1 807.2L1276 809.3ZM1355 821.6L1369.3 818.5L1383.7 816.5L1393.9 814.4L1385.7 819.5L1386.8 822.6L1375.5 825.7L1363.2 826.3L1357 824.7ZM1420 802.1L1417.5 806.2L1418.6 814.4L1416.5 824.7L1412.4 834.9L1408.3 843.1L1402.1 853.4L1396 861.6L1387.8 867.7L1369.3 870.8L1355 869.8L1352.9 873.9L1346.8 872.9L1346.8 868.8L1328.3 870.8L1307.8 873.9L1287.2 872.9L1266.7 869.8L1246.2 866.7L1229.8 866.7L1225.7 861.6L1205.2 857.5L1192.9 854.4L1184.7 851.3L1164.1 850.3L1149.8 853.4L1139.5 857.5M1134.8 862.2L1136 863.4M1137.3 866.3L1138.5 867.5M1139.3 871.4L1140.5 872.7M1135.4 878L1123.1 883.1L1112.8 882.1L1102.6 878L1088.2 872.9L1071.8 869.8L1059.5 866.7L1055.4 860.6L1054.4 856.5L1036.9 851.3L1020.5 850.3L1000 849.3M1243.8 775.4L1244.6 776.6M1610.6 700L1608.5 694.3L1612.6 687.1L1624.9 675.8L1637.2 677.9L1643.4 672.7L1650.6 671.7L1649.5 668.6L1670.1 665.6L1684.4 660.4L1713.1 660.8L1721.4 665.6L1733.7 671.7L1737.8 681L1739.8 685.1L1743.9 686.7L1723.4 687.5L1711.1 684.6L1700.8 686.1L1689.6 689.2L1693.7 695.7L1680.3 696.3L1672.1 695.3L1676.2 700M1844.5 672.7L1840.4 672.3L1836.3 676.9L1823.9 677.9L1819.8 683L1813.7 689.2L1812.7 695.3L1815.7 700M1419.9 668.6L1430 667.6L1448.5 662.5L1473.1 660L1479.2 662.5L1464.9 665.6L1450.5 668.6L1454.6 671.7L1460.8 672.7L1450.5 678.9L1442.3 685.1L1430 685.5L1419.9 685.1M1419.9 689.2L1430 689.2L1438.2 688.1L1444.4 692.2L1456.7 696.3L1471 700M1471 700.1L1491.6 708.5L1510 716.7L1516.2 722.8L1520.3 729L1516.2 734.1L1499.8 740.3L1481.3 742.3L1458.7 742.9L1442.3 740.3L1430 738.8L1419.9 736.2M1610.6 700.1L1620.8 703.3L1622.9 712.6L1630 720.8L1641.3 729L1651.6 737.2L1655.7 743.3L1661.9 748.5L1674.2 749.9L1663.9 750.5L1657.7 755.7L1653.6 765.9L1646.5 766.3L1648.5 776.2L1650.6 786.4L1657.7 788.5L1668 789.9L1674.2 793.6L1686.5 797.7L1696.7 800.2L1711.1 797.7L1723.4 796.3L1736.7 796.7L1738.8 790.5L1735.7 782.3L1735.7 772.1L1737.8 766.9L1731.6 763.9L1729.6 755.7L1721.4 756.1L1716.2 751.6L1719.3 745.4L1731.6 745L1743.9 745.4L1752.1 742.3L1741.9 735.1L1733.7 728.6L1721.4 729L1716.2 734.1L1717.2 739.2L1712.1 731L1714.2 721.8L1704.9 717.7L1694.7 714.6L1686.5 706.4L1680.3 700.3L1672.1 698.2L1676.2 695.1L1692.6 696.2L1690.6 690L1676.2 688.8M1815.7 688.8L1814.7 698.2L1815.7 706.4L1832.1 706.8L1842.4 708.9L1844.5 702.3M1668 885L1676.2 893.2L1688.5 905.5L1696.7 914.8L1713.1 921.9L1729.6 928.1L1735.7 930.8L1750.1 933.2L1766.5 929.1L1778.8 926.7L1789.1 927.1L1794.2 935.3L1797.3 941.4L1819.8 945.5L1844.5 947.6L1852.7 948.2M1627 894.2L1635.2 893.2L1649.5 880.3L1661.9 886L1668 885M1635.2 894.2L1641.3 904.5L1651.6 914.8L1661.9 924L1670.1 932.2L1672.1 940.4L1679.3 949.6L1685.4 945.5L1686.5 939.4L1691.6 938.4L1696.7 945.5L1695.7 955.8L1690.6 962.4L1698.8 963L1702.9 965L1711.1 966.1L1715.2 963.6L1725.5 963L1735.7 964L1743.9 962L1750.1 956.8L1762.4 947.6L1770.6 942.5L1778.8 938.4L1780.9 939.4L1781.3 955.8L1789.1 962L1799.3 967.1L1809.6 970.2L1823.9 973.2L1830.1 978.4L1841.4 986.6L1836.3 996.8L1828 1003L1819.8 1011.2L1809.6 1013.2L1805.5 1021.5L1807.5 1029.7L1795.2 1032.7L1787 1037.9L1780.9 1044L1764.4 1048.1L1758.3 1054.3L1752.1 1058.4L1737.8 1058.4L1723.4 1062.5L1709 1068.6L1707 1075.8L1686.5 1081L1666 1086.1L1655.7 1089.2L1650.6 1094.3M1430 938.4L1436.2 943.5L1442.3 953.7L1450.5 962L1460.8 968.1L1469 976.3L1474.1 986.6L1474.1 996.8L1477.2 1007.1L1485.4 1014.3L1495.7 1017.3L1503.9 1023.5L1510 1033.8L1518.2 1044L1528.5 1052.2L1536.7 1062.5L1540.8 1070.7L1539.8 1078.9L1542.8 1087.1L1544.9 1094.3M1430 988.6L1437.2 990.7L1438.2 998.9L1443.3 1005L1442.3 1015.3L1445.4 1027.6L1450.5 1035.8L1460.8 1039.9L1469 1048.1L1474.1 1056.3L1477.2 1066.6L1483.3 1075.8L1489.5 1078.9L1493.6 1084L1505.9 1089.2L1514.1 1094.3M1355.7 887.2L1361.1 888.6L1369.3 902.3L1380.3 915.9L1391.2 915.9L1394 909.1L1398.1 899.5L1403.5 892.7L1402.2 902.3L1396.7 913.2L1407.6 914.6L1418.6 924.1L1430.1 938.4M1355.7 887.2L1358.4 894L1366.6 905L1374.8 915.9L1383 926.9L1396.7 940.6L1410.4 957L1413.1 973.4L1424 984.3L1430.1 988.4M620.5 854.9L619.9 861.2L611.7 865.3L611.7 877.6L615.8 883.1L607.6 894L596.7 900.9L583 906.4L574.8 911.8L558.4 914.6L550.2 918.7L546.1 926.9L532.4 933.7L528.3 940.6L525.5 951.5L514.6 963.8L503.7 976.1L492.7 987.1L485.9 993.9L484.5 1003.5L490 1007.6L498.2 1014.4L494.1 1024L500.9 1033.6L502.3 1044.5L498.2 1055.5L494.1 1063.7L495.5 1071.9L485.9 1082.8L477.7 1086.9L485.9 1093.2M487.2 909.1L499.6 905L496.8 911.8L491.4 913.2ZM506.4 911.8L511.9 911.3L514.1 915.4L508.6 916.5ZM532.4 909.1L540.6 900.9L547.4 896.8L544.7 902.3L540.6 910.5L533.8 911.8ZM278.5 774.2L287.5 776.4M328.6 784.1L340.1 784.1M1278.3 486L1285.1 485.1L1298.8 490.8L1309.8 489.5L1318.7 495.6L1313.9 494.2L1300.2 492.2L1287.9 496.3L1279.7 500.1M1314.5 477.8L1319.3 474L1328.9 471.7L1339.9 471.7L1348.1 475.1L1357.6 476.7L1363.8 480.6L1365.2 484.7L1360.4 489.9L1353.5 490.4L1345.3 490.4L1341.2 494L1333.7 494L1330.3 487.4L1324.8 481.9ZM1390.5 453.9L1401.4 456.6L1409.6 458L1417.8 460L1417.8 465.5L1421.9 471L1428.8 474.4L1428.8 478.5L1421.9 480.8L1412.3 480.8L1411.7 476.2L1401.4 473.7L1394.6 469.6L1397.3 464.8L1408.2 463.9L1408.9 460L1400 458.7Z" fill="none" stroke="#05050f" stroke-width="2.1" stroke-linejoin="round" stroke-linecap="round"/>
</g>
<rect x="219.0" y="453.0" width="1626.0" height="640.0" fill="none" stroke="#7a7a7a" stroke-width="1.3"/>
<path d="M219.0 1093.0H1845.0M219.0 1093.0V1148.5H1845.0V1093.0" fill="none" stroke="#3a3a3a" stroke-width="1.6"/>
<line x1="201" y1="1148.5" x2="219" y2="1148.5" stroke="#3a3a3a" stroke-width="1.6" />
<line x1="1845" y1="1148.5" x2="1863" y2="1148.5" stroke="#3a3a3a" stroke-width="1.6" />
<text x="194" y="1158.5" font-size="28" text-anchor="end" fill="#000" font-weight="normal" >10°N</text>
<line x1="201" y1="1083" x2="219" y2="1083" stroke="#3a3a3a" stroke-width="1.6" />
<line x1="1845" y1="1083" x2="1863" y2="1083" stroke="#3a3a3a" stroke-width="1.6" />
<line x1="201" y1="1017.3" x2="219" y2="1017.3" stroke="#3a3a3a" stroke-width="1.6" />
<line x1="1845" y1="1017.3" x2="1863" y2="1017.3" stroke="#3a3a3a" stroke-width="1.6" />
<text x="194" y="1027.3" font-size="28" text-anchor="end" fill="#000" font-weight="normal" >20°N</text>
<line x1="201" y1="951.7" x2="219" y2="951.7" stroke="#3a3a3a" stroke-width="1.6" />
<line x1="1845" y1="951.7" x2="1863" y2="951.7" stroke="#3a3a3a" stroke-width="1.6" />
<line x1="201" y1="886.1" x2="219" y2="886.1" stroke="#3a3a3a" stroke-width="1.6" />
<line x1="1845" y1="886.1" x2="1863" y2="886.1" stroke="#3a3a3a" stroke-width="1.6" />
<text x="194" y="896.1" font-size="28" text-anchor="end" fill="#000" font-weight="normal" >30°N</text>
<line x1="201" y1="820.5" x2="219" y2="820.5" stroke="#3a3a3a" stroke-width="1.6" />
<line x1="1845" y1="820.5" x2="1863" y2="820.5" stroke="#3a3a3a" stroke-width="1.6" />
<line x1="201" y1="754.9" x2="219" y2="754.9" stroke="#3a3a3a" stroke-width="1.6" />
<line x1="1845" y1="754.9" x2="1863" y2="754.9" stroke="#3a3a3a" stroke-width="1.6" />
<text x="194" y="764.9" font-size="28" text-anchor="end" fill="#000" font-weight="normal" >40°N</text>
<line x1="201" y1="689.3" x2="219" y2="689.3" stroke="#3a3a3a" stroke-width="1.6" />
<line x1="1845" y1="689.3" x2="1863" y2="689.3" stroke="#3a3a3a" stroke-width="1.6" />
<line x1="201" y1="623.7" x2="219" y2="623.7" stroke="#3a3a3a" stroke-width="1.6" />
<line x1="1845" y1="623.7" x2="1863" y2="623.7" stroke="#3a3a3a" stroke-width="1.6" />
<text x="194" y="633.7" font-size="28" text-anchor="end" fill="#000" font-weight="normal" >50°N</text>
<line x1="201" y1="558.1" x2="219" y2="558.1" stroke="#3a3a3a" stroke-width="1.6" />
<line x1="1845" y1="558.1" x2="1863" y2="558.1" stroke="#3a3a3a" stroke-width="1.6" />
<line x1="201" y1="492.5" x2="219" y2="492.5" stroke="#3a3a3a" stroke-width="1.6" />
<line x1="1845" y1="492.5" x2="1863" y2="492.5" stroke="#3a3a3a" stroke-width="1.6" />
<text x="194" y="502.5" font-size="28" text-anchor="end" fill="#000" font-weight="normal" >60°N</text>
<line x1="254.5" y1="435" x2="254.5" y2="453" stroke="#3a3a3a" stroke-width="1.6" />
<line x1="254.5" y1="1148.5" x2="254.5" y2="1167" stroke="#3a3a3a" stroke-width="1.6" />
<text x="254.5" y="1202.5" font-size="28" text-anchor="middle" fill="#000" font-weight="normal" >30°W</text>
<line x1="519.5" y1="435" x2="519.5" y2="453" stroke="#3a3a3a" stroke-width="1.6" />
<line x1="519.5" y1="1148.5" x2="519.5" y2="1167" stroke="#3a3a3a" stroke-width="1.6" />
<text x="519.5" y="1202.5" font-size="28" text-anchor="middle" fill="#000" font-weight="normal" >15°W</text>
<line x1="784.6" y1="435" x2="784.6" y2="453" stroke="#3a3a3a" stroke-width="1.6" />
<line x1="784.6" y1="1148.5" x2="784.6" y2="1167" stroke="#3a3a3a" stroke-width="1.6" />
<text x="784.6" y="1202.5" font-size="28" text-anchor="middle" fill="#000" font-weight="normal" >0°E</text>
<line x1="1049.7" y1="435" x2="1049.7" y2="453" stroke="#3a3a3a" stroke-width="1.6" />
<line x1="1049.7" y1="1148.5" x2="1049.7" y2="1167" stroke="#3a3a3a" stroke-width="1.6" />
<text x="1049.7" y="1202.5" font-size="28" text-anchor="middle" fill="#000" font-weight="normal" >15°E</text>
<line x1="1314.7" y1="435" x2="1314.7" y2="453" stroke="#3a3a3a" stroke-width="1.6" />
<line x1="1314.7" y1="1148.5" x2="1314.7" y2="1167" stroke="#3a3a3a" stroke-width="1.6" />
<text x="1314.7" y="1202.5" font-size="28" text-anchor="middle" fill="#000" font-weight="normal" >30°E</text>
<line x1="1579.8" y1="435" x2="1579.8" y2="453" stroke="#3a3a3a" stroke-width="1.6" />
<line x1="1579.8" y1="1148.5" x2="1579.8" y2="1167" stroke="#3a3a3a" stroke-width="1.6" />
<text x="1579.8" y="1202.5" font-size="28" text-anchor="middle" fill="#000" font-weight="normal" >45°E</text>
<line x1="1844.8" y1="435" x2="1844.8" y2="453" stroke="#3a3a3a" stroke-width="1.6" />
<line x1="1844.8" y1="1148.5" x2="1844.8" y2="1167" stroke="#3a3a3a" stroke-width="1.6" />
<text x="1844.8" y="1202.5" font-size="28" text-anchor="middle" fill="#000" font-weight="normal" >60°E</text>
<text x="1045.7" y="1132.5" font-size="29.1" text-anchor="middle" fill="#000" font-weight="normal" >GPH-anomaly (850 mbar) for precipitation above 2xSTD (NOAA reanalysis data)</text>
<text x="27.5" y="502.5" font-size="31" text-anchor="start" fill="#000" font-weight="bold" >b</text>
<rect x="1890.6" y="1114.2" width="66.8" height="34.8" fill="#2400d8" stroke="#140808" stroke-opacity="0.85" stroke-width="1.5"/>
<rect x="1890.6" y="1079.4" width="66.8" height="34.8" fill="#1a1ef7" stroke="#140808" stroke-opacity="0.85" stroke-width="1.5"/>
<rect x="1890.6" y="1044.6" width="66.8" height="34.8" fill="#2848ff" stroke="#140808" stroke-opacity="0.85" stroke-width="1.5"/>
<rect x="1890.6" y="1009.8" width="66.8" height="34.8" fill="#3672ff" stroke="#140808" stroke-opacity="0.85" stroke-width="1.5"/>
<rect x="1890.6" y="975" width="66.8" height="34.8" fill="#4a9dff" stroke="#140808" stroke-opacity="0.85" stroke-width="1.5"/>
<rect x="1890.6" y="940.3" width="66.8" height="34.8" fill="#63bfff" stroke="#140808" stroke-opacity="0.85" stroke-width="1.5"/>
<rect x="1890.6" y="905.5" width="66.8" height="34.8" fill="#7fdaff" stroke="#140808" stroke-opacity="0.85" stroke-width="1.5"/>
<rect x="1890.6" y="870.7" width="66.8" height="34.8" fill="#a0efff" stroke="#140808" stroke-opacity="0.85" stroke-width="1.5"/>
<rect x="1890.6" y="835.9" width="66.8" height="34.8" fill="#c0fbff" stroke="#140808" stroke-opacity="0.85" stroke-width="1.5"/>
<rect x="1890.6" y="801.1" width="66.8" height="34.8" fill="#eaffff" stroke="#140808" stroke-opacity="0.85" stroke-width="1.5"/>
<rect x="1890.6" y="766.3" width="66.8" height="34.8" fill="#fffff0" stroke="#140808" stroke-opacity="0.85" stroke-width="1.5"/>
<rect x="1890.6" y="731.5" width="66.8" height="34.8" fill="#fff3c2" stroke="#140808" stroke-opacity="0.85" stroke-width="1.5"/>
<rect x="1890.6" y="696.7" width="66.8" height="34.8" fill="#ffdca0" stroke="#140808" stroke-opacity="0.85" stroke-width="1.5"/>
<rect x="1890.6" y="661.9" width="66.8" height="34.8" fill="#ffb984" stroke="#140808" stroke-opacity="0.85" stroke-width="1.5"/>
<rect x="1890.6" y="627.1" width="66.8" height="34.8" fill="#ff8f66" stroke="#140808" stroke-opacity="0.85" stroke-width="1.5"/>
<rect x="1890.6" y="592.4" width="66.8" height="34.8" fill="#ff5f4a" stroke="#140808" stroke-opacity="0.85" stroke-width="1.5"/>
<rect x="1890.6" y="557.6" width="66.8" height="34.8" fill="#ff383d" stroke="#140808" stroke-opacity="0.85" stroke-width="1.5"/>
<rect x="1890.6" y="522.8" width="66.8" height="34.8" fill="#f22535" stroke="#140808" stroke-opacity="0.85" stroke-width="1.5"/>
<rect x="1890.6" y="488" width="66.8" height="34.8" fill="#d2122e" stroke="#140808" stroke-opacity="0.85" stroke-width="1.5"/>
<rect x="1890.6" y="453.2" width="66.8" height="34.8" fill="#a50021" stroke="#140808" stroke-opacity="0.85" stroke-width="1.5"/>
<text x="2010.5" y="534.6" font-size="29" text-anchor="middle" fill="#000" font-weight="normal" >40</text>
<text x="2010.5" y="638.9" font-size="29" text-anchor="middle" fill="#000" font-weight="normal" >25</text>
<text x="2010.5" y="743.3" font-size="29" text-anchor="middle" fill="#000" font-weight="normal" >10</text>
<text x="2010.5" y="847.7" font-size="29" text-anchor="middle" fill="#000" font-weight="normal" >−5</text>
<text x="2010.5" y="952.1" font-size="29" text-anchor="middle" fill="#000" font-weight="normal" >−20</text>
<text x="2010.5" y="1056.4" font-size="29" text-anchor="middle" fill="#000" font-weight="normal" >−35</text>
<text x="2010.5" y="1160.8" font-size="29" text-anchor="middle" fill="#000" font-weight="normal" >−50</text>
<text x="2011" y="1213" font-size="28" text-anchor="middle" fill="#000" font-weight="normal" >(m)</text>
<line x1="218" y1="142" x2="1325" y2="142" stroke="#8c8c8c" stroke-width="1.6" stroke-dasharray="17.8 12.2" stroke-dashoffset="-2.2"/>
<polyline points="217.6,153.3 221,217 223.6,242.4 225.8,183.9 228.3,208.5 230.4,252.6 232.9,272.9 235.1,216.1 237.7,262.8 240.2,196.6 242.2,83.8 244.8,199.2 247,198.3 249.4,262.8 251.7,220.4 254.1,248.3 256.7,162.7 259.2,249.2 261.4,281.4 263.8,264.5 266.2,272.9 268.5,137.2 271.1,168.6 273.3,168.6 275.7,222.1 277.9,198.3 280.4,225.4 282.6,234.8 285,239 287.4,275.5 289.7,259.4 292.1,238.2 294.5,232.2 296.9,159.3 299.2,202.5 301.6,139.8 304,270.4 306.4,247.5 308.7,222.1 310.9,200 313.5,247.5 315.7,274.6 318.2,252.6 320.6,232.2 323,256 325.4,203.4 327.7,183 330.1,183.9 332.5,260.2 334.7,200.8 337.2,258.5 339.4,259 341.8,218.7 344.2,170.3 346.6,230.5 348.9,261.9 351.3,233.9 353.7,228 356.1,190.7 358.4,194.1 360.8,177.9 363.2,176.2 365.6,205.1 367.9,230.5 370.3,256 372.7,273.8 375.1,289.1 377.4,226.3 379.6,225.4 382,278.9 384.4,216.1 386.8,245.8 389.1,145.7 391.5,222.1 393.9,206.8 396.3,224.6 398.6,226.3 401,254.3 403.2,293.3 405.6,283.1 408,284.8 410.5,272.1 412.9,21.5 415.3,256.8 417.7,179.6 420,109.2 422.2,228.8 424.6,250.9 427,215.6 429.4,216.6 431.7,247.5 434.1,279.7 436.5,279.7 438.9,245.8 441.2,267.9 443.6,239 446,155.9 448.4,232.2 450.7,183.9 453.1,234.8 455.5,231.4 457.9,262.8 460.2,277.2 462.6,278.9 465,264.5 467.4,213.6 469.7,193.2 472.1,227.1 474.5,255.1 476.9,223.8 479.2,211.9 481.6,257.7 483.8,273.8 486.2,245 488.6,292.5 491.1,289.9 493.5,251.7 495.9,245.8 498.1,145.7 500.6,230.5 503,296.7 505.4,245 507.6,247.5 509.9,241.6 512.1,208.5 514.7,214.4 517.1,217 519.4,261.1 521.8,262.8 524.2,185.6 526.7,213.6 529.1,237.3 531.3,291.6 533.7,267.9 536.1,284.8 538.4,220.4 540.8,247.5 543.2,279.7 545.6,287.4 547.9,264.5 550.3,262.8 552.5,242.4 554.9,217 557.3,117.7 559.6,269.6 562,163.5 564.4,250.9 566.8,180.5 569.1,218.7 571.5,271.2 573.9,228 576.3,264.5 578.6,257.7 580.9,237.3 583.2,167.8 585.6,278 588,284 590.4,280.6 592.7,277.2 595.1,166.1 597.5,255.1 599.9,220.4 602.2,261.1 604.6,290.8 607,284 609.4,188.1 611.7,201.7 614.1,217 616.5,264.5 618.9,271.2 621.2,222.9 623.6,261.1 625.8,245.8 628.2,261.1 630.6,289.1 632.9,283.1 635.3,264.5 637.7,239 640.1,165.2 642.4,210.2 644.8,186.4 647.2,206.8 649.6,284 651.9,204.2 654.3,275.5 656.7,272.9 659.1,243.3 661.4,263.6 663.8,267.9 666.2,228.8 668.6,245.8 670.9,196.6 673.1,182.2 675.5,240.7 677.9,216.1 680.3,236.5 682.6,210.2 685,273.8 687.4,221.2 689.8,219.5 692.1,187.3 694.5,295 696.9,230.5 699.3,122.8 701.6,230.5 704,183 706.4,200 708.8,245.8 711.1,228.8 713.5,285.7 715.9,278 718.3,259.4 720.6,128.8 723,237.3 725.4,177.1 727.8,173.7 730.1,264.5 732.5,250.9 734.9,245.8 737.3,231.4 739.6,263.6 742,267 744.4,279.7 746.6,256.8 749,290.8 751.3,144.9 753.7,222.9 756.1,178.8 758.5,259.4 760.9,207.6 763.2,261.1 765.6,230.5 768,189.8 770.4,252.6 772.7,273.8 775.1,261.1 777.5,177.1 779.9,193.2 782.2,138.1 784.6,211.9 787,229.7 789.4,200 791.7,211 794.1,212.7 796.5,270.4 798.9,219.5 801.2,232.2 803.6,272.9 806,250.9 808.4,233.9 810.7,127.9 813.1,172.9 815.5,262.8 817.9,222.1 820.2,237.3 822.6,247.5 825,250.9 827.4,267.9 829.7,281.4 832.1,291.6 834.5,267.9 836.9,218.7 839.2,202.5 841.6,244.1 844,225.4 846.4,244.1 848.7,267.9 851.1,173.7 853.5,246.7 855.9,271.2 858.2,274.6 860.6,269.6 862.6,251.7 865,295 867.4,228.8 869.8,206.8 872.1,267 874.5,279.7 876.9,211.9 879.3,193.2 881.6,211.9 884,269.6 886.4,217 888.8,212.7 891.1,110.1 893.5,218.7 895.9,259.4 898.3,129.6 900.6,162.7 903,230.5 905.4,281.4 907.8,254.3 910.1,242.4 912.5,240.7 914.9,274.6 917.3,269.6 919.6,259.4 922,116.9 924.4,215.3 926.8,194.9 929.1,196.6 931.5,229.7 933.9,210.2 936.3,223.8 938.6,213.6 940.9,198.3 943.2,247.5 945.6,276.3 948,225.4 950.4,227.1 952.7,165.2 955.1,218.7 957.5,213.6 959.9,191.5 962.2,203.4 964.6,256.8 967,232.2 969.4,254.3 971.7,265.3 974.1,242.4 976.5,235.6 978.9,245.8 981.2,223.8 983.6,134.7 986,220.4 988.4,186.4 990.7,181.3 993.1,227.1 995.5,267 997.9,226.3 1000.2,223.8 1002.6,241.6 1005,240.7 1007.4,231.4 1009.7,248.3 1012.1,264.5 1014.5,233.1 1016.9,234.8 1019.2,229.7 1021.6,272.1 1024,219.5 1026.4,242.4 1028.7,298.4 1031.1,261.1 1033.5,244.1 1035.9,155.9 1038.2,154.2 1040.6,223.8 1043,264.5 1045.4,275.5 1047.7,227.1 1050.1,230.5 1052.5,269.6 1054.9,245.8 1057.2,269.6 1059.6,284.8 1062,189 1064.4,256.8 1066.7,213.6 1069.1,137.2 1071.5,150.8 1073.9,240.7 1076.2,189 1078.6,245 1081,237.3 1083.4,196.6 1085.7,274.6 1088.1,246.7 1090.5,277.2 1092.9,162.7 1095.2,159.3 1097.6,124.5 1100,206.8 1102.4,117.7 1104.7,211 1107.1,220.4 1109.5,228.8 1111.9,235.6 1114.2,256 1116.6,294.2 1118.1,213.6 1120.5,92.6 1122.9,128.8 1125.3,179.6 1127.6,233.9 1130,250 1132.1,252.6 1134.4,269.6 1136.8,219.5 1139.2,250.9 1141.6,277.2 1144.3,281.4 1146.3,236.5 1148.7,256 1151.1,270.4 1153.4,210.2 1155.8,243.3 1158.2,177.1 1160.6,265.3 1162.9,205.1 1165.3,172.9 1167.7,278 1170.4,283.1 1172.8,276.3 1175.1,244.1 1177.5,165.2 1179.6,200.8 1181.9,169.5 1184.3,192.4 1186.7,152.5 1189.1,183 1191.4,233.9 1193.8,218.7 1196.2,247.5 1198.6,264.5 1200.9,278.9 1203.3,220.4 1205.7,243.3 1208.1,171.2 1210.4,261.1 1212.8,225.4 1215.2,259.4 1217.6,232.2 1219.9,153.3 1222.3,219.5 1224.7,224.6 1227.1,230.5 1229.4,270.4 1231.8,129.6 1234.2,213.6 1236.6,188.1 1238.9,173.7 1241.3,183 1243.7,175.4 1246.1,188.1 1248.4,244.1 1250.8,264.5 1253.2,237.3 1255.6,288.2 1257.9,244.1 1260.3,179.6 1262.7,140.6 1265.1,220.4 1267.4,299.2 1269.8,159.3 1272.2,213.6 1274.6,186.4 1276.9,241.6 1279.3,190.7 1281.7,244.1 1284.1,263.6 1286.4,243.3 1288.8,165.2 1291.2,197.5 1293.2,173.7 1295.6,289.9 1298,232.2 1300.4,245.8 1302.8,255.1 1305.2,251.7 1307.6,210.2 1309.9,259.4 1312.3,269.6 1314.7,283.1 1317.1,246.7 1319.4,258.5 1321.5,122.8 1323.8,173.7 1325,161" fill="none" stroke="#2424ee" stroke-width="1.7" stroke-linejoin="miter"/>
<rect x="218" y="18" width="1107" height="283.6" fill="none" stroke="#3a3a3a" stroke-width="1.6"/>
<line x1="202.5" y1="301.6" x2="218" y2="301.6" stroke="#3a3a3a" stroke-width="1.7" />
<line x1="1325" y1="301.6" x2="1340" y2="301.6" stroke="#3a3a3a" stroke-width="1.7" />
<text x="194.5" y="311.6" font-size="28.2" text-anchor="end" fill="#000" font-weight="normal" >0</text>
<line x1="202.5" y1="257.3" x2="218" y2="257.3" stroke="#3a3a3a" stroke-width="1.7" />
<line x1="1325" y1="257.3" x2="1340" y2="257.3" stroke="#3a3a3a" stroke-width="1.7" />
<line x1="202.5" y1="213" x2="218" y2="213" stroke="#3a3a3a" stroke-width="1.7" />
<line x1="1325" y1="213" x2="1340" y2="213" stroke="#3a3a3a" stroke-width="1.7" />
<text x="194.5" y="223" font-size="28.2" text-anchor="end" fill="#000" font-weight="normal" >100</text>
<line x1="202.5" y1="168.7" x2="218" y2="168.7" stroke="#3a3a3a" stroke-width="1.7" />
<line x1="1325" y1="168.7" x2="1340" y2="168.7" stroke="#3a3a3a" stroke-width="1.7" />
<line x1="202.5" y1="124.4" x2="218" y2="124.4" stroke="#3a3a3a" stroke-width="1.7" />
<line x1="1325" y1="124.4" x2="1340" y2="124.4" stroke="#3a3a3a" stroke-width="1.7" />
<text x="194.5" y="134.4" font-size="28.2" text-anchor="end" fill="#000" font-weight="normal" >200</text>
<line x1="202.5" y1="80.1" x2="218" y2="80.1" stroke="#3a3a3a" stroke-width="1.7" />
<line x1="1325" y1="80.1" x2="1340" y2="80.1" stroke="#3a3a3a" stroke-width="1.7" />
<line x1="202.5" y1="35.8" x2="218" y2="35.8" stroke="#3a3a3a" stroke-width="1.7" />
<line x1="1325" y1="35.8" x2="1340" y2="35.8" stroke="#3a3a3a" stroke-width="1.7" />
<text x="194.5" y="45.8" font-size="28.2" text-anchor="end" fill="#000" font-weight="normal" >300</text>
<line x1="246" y1="301.6" x2="246" y2="315.6" stroke="#3a3a3a" stroke-width="1.6" />
<line x1="246" y1="3" x2="246" y2="18" stroke="#3a3a3a" stroke-width="1.6" />
<text x="246" y="349.5" font-size="28.2" text-anchor="middle" fill="#000" font-weight="normal" >1980</text>
<line x1="388" y1="301.6" x2="388" y2="315.6" stroke="#3a3a3a" stroke-width="1.6" />
<line x1="388" y1="3" x2="388" y2="18" stroke="#3a3a3a" stroke-width="1.6" />
<text x="388" y="349.5" font-size="28.2" text-anchor="middle" fill="#000" font-weight="normal" >1985</text>
<line x1="530" y1="301.6" x2="530" y2="315.6" stroke="#3a3a3a" stroke-width="1.6" />
<line x1="530" y1="3" x2="530" y2="18" stroke="#3a3a3a" stroke-width="1.6" />
<text x="530" y="349.5" font-size="28.2" text-anchor="middle" fill="#000" font-weight="normal" >1990</text>
<line x1="672" y1="301.6" x2="672" y2="315.6" stroke="#3a3a3a" stroke-width="1.6" />
<line x1="672" y1="3" x2="672" y2="18" stroke="#3a3a3a" stroke-width="1.6" />
<text x="672" y="352" font-size="28.2" text-anchor="middle" fill="#000" font-weight="normal" >1995</text>
<line x1="814" y1="301.6" x2="814" y2="315.6" stroke="#3a3a3a" stroke-width="1.6" />
<line x1="814" y1="3" x2="814" y2="18" stroke="#3a3a3a" stroke-width="1.6" />
<text x="814" y="352" font-size="28.2" text-anchor="middle" fill="#000" font-weight="normal" >2000</text>
<line x1="956" y1="301.6" x2="956" y2="315.6" stroke="#3a3a3a" stroke-width="1.6" />
<line x1="956" y1="3" x2="956" y2="18" stroke="#3a3a3a" stroke-width="1.6" />
<text x="956" y="352" font-size="28.2" text-anchor="middle" fill="#000" font-weight="normal" >2005</text>
<line x1="1098" y1="301.6" x2="1098" y2="315.6" stroke="#3a3a3a" stroke-width="1.6" />
<line x1="1098" y1="3" x2="1098" y2="18" stroke="#3a3a3a" stroke-width="1.6" />
<text x="1098" y="352" font-size="28.2" text-anchor="middle" fill="#000" font-weight="normal" >2010</text>
<line x1="1240" y1="301.6" x2="1240" y2="315.6" stroke="#3a3a3a" stroke-width="1.6" />
<line x1="1240" y1="3" x2="1240" y2="18" stroke="#3a3a3a" stroke-width="1.6" />
<text x="1240" y="349" font-size="28.2" text-anchor="middle" fill="#000" font-weight="normal" >2015</text>
<text x="793" y="388" font-size="29" text-anchor="middle" fill="#000" font-weight="normal" >time in yrs</text>
<text transform="translate(44 145) rotate(-90)" font-size="29" text-anchor="middle" fill="#000">Lake Ohrid</text>
<text transform="translate(78 145) rotate(-90)" font-size="29" text-anchor="middle" fill="#000">monthly-mean</text>
<text transform="translate(114 145) rotate(-90)" font-size="29" text-anchor="middle" fill="#000">precipitation (cm yr<tspan dy="-10" font-size="18">-1</tspan><tspan dy="10">)</tspan></text>
<text x="29" y="33.5" font-size="31" text-anchor="start" fill="#000" font-weight="bold" >a</text>
<rect x="1529" y="224" width="31" height="78.2" fill="#4a4a4a" stroke="#262626" stroke-width="1.6"/>
<rect x="1851" y="184.9" width="31" height="117.3" fill="#4a4a4a" stroke="#262626" stroke-width="1.6"/>
<rect x="1897" y="145.8" width="31" height="156.4" fill="#4a4a4a" stroke="#262626" stroke-width="1.6"/>
<rect x="1943" y="67.6" width="31" height="234.6" fill="#4a4a4a" stroke="#262626" stroke-width="1.6"/>
<rect x="1989" y="28.5" width="31" height="273.7" fill="#4a4a4a" stroke="#262626" stroke-width="1.6"/>
<rect x="1475.5" y="19" width="551.9" height="283.2" fill="none" stroke="#3a3a3a" stroke-width="1.6"/>
<line x1="1464.5" y1="302.2" x2="1475.5" y2="302.2" stroke="#3a3a3a" stroke-width="1.6" />
<line x1="2027.4" y1="302.2" x2="2039.4" y2="302.2" stroke="#3a3a3a" stroke-width="1.6" />
<text x="1451.5" y="312.2" font-size="28" text-anchor="end" fill="#000" font-weight="normal" >0</text>
<line x1="1464.5" y1="263.1" x2="1475.5" y2="263.1" stroke="#3a3a3a" stroke-width="1.6" />
<line x1="2027.4" y1="263.1" x2="2039.4" y2="263.1" stroke="#3a3a3a" stroke-width="1.6" />
<text x="1451.5" y="273.1" font-size="28" text-anchor="end" fill="#000" font-weight="normal" >1</text>
<line x1="1464.5" y1="224" x2="1475.5" y2="224" stroke="#3a3a3a" stroke-width="1.6" />
<line x1="2027.4" y1="224" x2="2039.4" y2="224" stroke="#3a3a3a" stroke-width="1.6" />
<text x="1451.5" y="234" font-size="28" text-anchor="end" fill="#000" font-weight="normal" >2</text>
<line x1="1464.5" y1="184.9" x2="1475.5" y2="184.9" stroke="#3a3a3a" stroke-width="1.6" />
<line x1="2027.4" y1="184.9" x2="2039.4" y2="184.9" stroke="#3a3a3a" stroke-width="1.6" />
<text x="1451.5" y="194.9" font-size="28" text-anchor="end" fill="#000" font-weight="normal" >3</text>
<line x1="1464.5" y1="145.8" x2="1475.5" y2="145.8" stroke="#3a3a3a" stroke-width="1.6" />
<line x1="2027.4" y1="145.8" x2="2039.4" y2="145.8" stroke="#3a3a3a" stroke-width="1.6" />
<text x="1451.5" y="155.8" font-size="28" text-anchor="end" fill="#000" font-weight="normal" >4</text>
<line x1="1464.5" y1="106.7" x2="1475.5" y2="106.7" stroke="#3a3a3a" stroke-width="1.6" />
<line x1="2027.4" y1="106.7" x2="2039.4" y2="106.7" stroke="#3a3a3a" stroke-width="1.6" />
<text x="1451.5" y="116.7" font-size="28" text-anchor="end" fill="#000" font-weight="normal" >5</text>
<line x1="1464.5" y1="67.6" x2="1475.5" y2="67.6" stroke="#3a3a3a" stroke-width="1.6" />
<line x1="2027.4" y1="67.6" x2="2039.4" y2="67.6" stroke="#3a3a3a" stroke-width="1.6" />
<text x="1451.5" y="77.6" font-size="28" text-anchor="end" fill="#000" font-weight="normal" >6</text>
<line x1="1464.5" y1="28.5" x2="1475.5" y2="28.5" stroke="#3a3a3a" stroke-width="1.6" />
<line x1="2027.4" y1="28.5" x2="2039.4" y2="28.5" stroke="#3a3a3a" stroke-width="1.6" />
<text x="1451.5" y="38.5" font-size="28" text-anchor="end" fill="#000" font-weight="normal" >7</text>
<line x1="1498.5" y1="302.2" x2="1498.5" y2="314.2" stroke="#3a3a3a" stroke-width="1.6" />
<line x1="1498.5" y1="7" x2="1498.5" y2="19" stroke="#3a3a3a" stroke-width="1.6" />
<text x="1498.5" y="352.5" font-size="28.8" text-anchor="middle" fill="#000" font-weight="normal" >JAN</text>
<line x1="1544.5" y1="302.2" x2="1544.5" y2="314.2" stroke="#3a3a3a" stroke-width="1.6" />
<line x1="1544.5" y1="7" x2="1544.5" y2="19" stroke="#3a3a3a" stroke-width="1.6" />
<line x1="1590.5" y1="302.2" x2="1590.5" y2="314.2" stroke="#3a3a3a" stroke-width="1.6" />
<line x1="1590.5" y1="7" x2="1590.5" y2="19" stroke="#3a3a3a" stroke-width="1.6" />
<text x="1590.5" y="352.5" font-size="28.8" text-anchor="middle" fill="#000" font-weight="normal" >MAR</text>
<line x1="1636.5" y1="302.2" x2="1636.5" y2="314.2" stroke="#3a3a3a" stroke-width="1.6" />
<line x1="1636.5" y1="7" x2="1636.5" y2="19" stroke="#3a3a3a" stroke-width="1.6" />
<line x1="1682.5" y1="302.2" x2="1682.5" y2="314.2" stroke="#3a3a3a" stroke-width="1.6" />
<line x1="1682.5" y1="7" x2="1682.5" y2="19" stroke="#3a3a3a" stroke-width="1.6" />
<text x="1682.5" y="352.5" font-size="28.8" text-anchor="middle" fill="#000" font-weight="normal" >MAY</text>
<line x1="1728.5" y1="302.2" x2="1728.5" y2="314.2" stroke="#3a3a3a" stroke-width="1.6" />
<line x1="1728.5" y1="7" x2="1728.5" y2="19" stroke="#3a3a3a" stroke-width="1.6" />
<line x1="1774.5" y1="302.2" x2="1774.5" y2="314.2" stroke="#3a3a3a" stroke-width="1.6" />
<line x1="1774.5" y1="7" x2="1774.5" y2="19" stroke="#3a3a3a" stroke-width="1.6" />
<text x="1774.5" y="352.5" font-size="28.8" text-anchor="middle" fill="#000" font-weight="normal" >JUL</text>
<line x1="1820.5" y1="302.2" x2="1820.5" y2="314.2" stroke="#3a3a3a" stroke-width="1.6" />
<line x1="1820.5" y1="7" x2="1820.5" y2="19" stroke="#3a3a3a" stroke-width="1.6" />
<line x1="1866.5" y1="302.2" x2="1866.5" y2="314.2" stroke="#3a3a3a" stroke-width="1.6" />
<line x1="1866.5" y1="7" x2="1866.5" y2="19" stroke="#3a3a3a" stroke-width="1.6" />
<text x="1866.5" y="352.5" font-size="28.8" text-anchor="middle" fill="#000" font-weight="normal" >SEP</text>
<line x1="1912.5" y1="302.2" x2="1912.5" y2="314.2" stroke="#3a3a3a" stroke-width="1.6" />
<line x1="1912.5" y1="7" x2="1912.5" y2="19" stroke="#3a3a3a" stroke-width="1.6" />
<line x1="1958.5" y1="302.2" x2="1958.5" y2="314.2" stroke="#3a3a3a" stroke-width="1.6" />
<line x1="1958.5" y1="7" x2="1958.5" y2="19" stroke="#3a3a3a" stroke-width="1.6" />
<text x="1958.5" y="352.5" font-size="28.8" text-anchor="middle" fill="#000" font-weight="normal" >NOV</text>
<line x1="2004.5" y1="302.2" x2="2004.5" y2="314.2" stroke="#3a3a3a" stroke-width="1.6" />
<line x1="2004.5" y1="7" x2="2004.5" y2="19" stroke="#3a3a3a" stroke-width="1.6" />
<text transform="translate(1383 161) rotate(-90)" font-size="29" text-anchor="middle" fill="#000">number of</text>
<text transform="translate(1416 162) rotate(-90)" font-size="29" text-anchor="middle" fill="#000">rainfall maxima</text>
<text x="1384" y="34.7" font-size="31" text-anchor="start" fill="#000" font-weight="bold" >c</text>
<rect x="214.4" y="1289" width="768.6" height="410.5" fill="none" stroke="#646464" stroke-width="1.15"/>
<line x1="201.4" y1="1699.5" x2="214.4" y2="1699.5" stroke="#646464" stroke-width="1.15" />
<line x1="983" y1="1699.5" x2="995" y2="1699.5" stroke="#646464" stroke-width="1.15" />
<text x="195" y="1710.3" font-size="28.2" text-anchor="end" fill="#000" font-weight="normal" >0</text>
<line x1="201.4" y1="1658.5" x2="214.4" y2="1658.5" stroke="#646464" stroke-width="1.15" />
<line x1="983" y1="1658.5" x2="995" y2="1658.5" stroke="#646464" stroke-width="1.15" />
<line x1="201.4" y1="1617.5" x2="214.4" y2="1617.5" stroke="#646464" stroke-width="1.15" />
<line x1="983" y1="1617.5" x2="995" y2="1617.5" stroke="#646464" stroke-width="1.15" />
<text x="195" y="1628.3" font-size="28.2" text-anchor="end" fill="#000" font-weight="normal" >20</text>
<line x1="201.4" y1="1576.5" x2="214.4" y2="1576.5" stroke="#646464" stroke-width="1.15" />
<line x1="983" y1="1576.5" x2="995" y2="1576.5" stroke="#646464" stroke-width="1.15" />
<line x1="201.4" y1="1535.5" x2="214.4" y2="1535.5" stroke="#646464" stroke-width="1.15" />
<line x1="983" y1="1535.5" x2="995" y2="1535.5" stroke="#646464" stroke-width="1.15" />
<text x="195" y="1546.3" font-size="28.2" text-anchor="end" fill="#000" font-weight="normal" >40</text>
<line x1="201.4" y1="1494.5" x2="214.4" y2="1494.5" stroke="#646464" stroke-width="1.15" />
<line x1="983" y1="1494.5" x2="995" y2="1494.5" stroke="#646464" stroke-width="1.15" />
<line x1="201.4" y1="1453.5" x2="214.4" y2="1453.5" stroke="#646464" stroke-width="1.15" />
<line x1="983" y1="1453.5" x2="995" y2="1453.5" stroke="#646464" stroke-width="1.15" />
<text x="195" y="1464.3" font-size="28.2" text-anchor="end" fill="#000" font-weight="normal" >60</text>
<line x1="201.4" y1="1412.5" x2="214.4" y2="1412.5" stroke="#646464" stroke-width="1.15" />
<line x1="983" y1="1412.5" x2="995" y2="1412.5" stroke="#646464" stroke-width="1.15" />
<line x1="201.4" y1="1371.5" x2="214.4" y2="1371.5" stroke="#646464" stroke-width="1.15" />
<line x1="983" y1="1371.5" x2="995" y2="1371.5" stroke="#646464" stroke-width="1.15" />
<text x="195" y="1382.3" font-size="28.2" text-anchor="end" fill="#000" font-weight="normal" >80</text>
<line x1="201.4" y1="1330.5" x2="214.4" y2="1330.5" stroke="#646464" stroke-width="1.15" />
<line x1="983" y1="1330.5" x2="995" y2="1330.5" stroke="#646464" stroke-width="1.15" />
<line x1="201.4" y1="1289.5" x2="214.4" y2="1289.5" stroke="#646464" stroke-width="1.15" />
<line x1="983" y1="1289.5" x2="995" y2="1289.5" stroke="#646464" stroke-width="1.15" />
<text x="195" y="1300.3" font-size="28.2" text-anchor="end" fill="#000" font-weight="normal" >100</text>
<line x1="246" y1="1699.5" x2="246" y2="1712.7" stroke="#646464" stroke-width="1.15" />
<line x1="246" y1="1276.5" x2="246" y2="1289" stroke="#646464" stroke-width="1.15" />
<text x="246" y="1757.5" font-size="28.8" text-anchor="middle" fill="#000" font-weight="normal" >JAN</text>
<line x1="310.1" y1="1699.5" x2="310.1" y2="1712.7" stroke="#646464" stroke-width="1.15" />
<line x1="310.1" y1="1276.5" x2="310.1" y2="1289" stroke="#646464" stroke-width="1.15" />
<line x1="374.1" y1="1699.5" x2="374.1" y2="1712.7" stroke="#646464" stroke-width="1.15" />
<line x1="374.1" y1="1276.5" x2="374.1" y2="1289" stroke="#646464" stroke-width="1.15" />
<text x="374.1" y="1757.5" font-size="28.8" text-anchor="middle" fill="#000" font-weight="normal" >MAR</text>
<line x1="438.1" y1="1699.5" x2="438.1" y2="1712.7" stroke="#646464" stroke-width="1.15" />
<line x1="438.1" y1="1276.5" x2="438.1" y2="1289" stroke="#646464" stroke-width="1.15" />
<line x1="502.2" y1="1699.5" x2="502.2" y2="1712.7" stroke="#646464" stroke-width="1.15" />
<line x1="502.2" y1="1276.5" x2="502.2" y2="1289" stroke="#646464" stroke-width="1.15" />
<text x="502.2" y="1757.5" font-size="28.8" text-anchor="middle" fill="#000" font-weight="normal" >MAY</text>
<line x1="566.2" y1="1699.5" x2="566.2" y2="1712.7" stroke="#646464" stroke-width="1.15" />
<line x1="566.2" y1="1276.5" x2="566.2" y2="1289" stroke="#646464" stroke-width="1.15" />
<line x1="630.3" y1="1699.5" x2="630.3" y2="1712.7" stroke="#646464" stroke-width="1.15" />
<line x1="630.3" y1="1276.5" x2="630.3" y2="1289" stroke="#646464" stroke-width="1.15" />
<text x="630.3" y="1757.5" font-size="28.8" text-anchor="middle" fill="#000" font-weight="normal" >JUL</text>
<line x1="694.3" y1="1699.5" x2="694.3" y2="1712.7" stroke="#646464" stroke-width="1.15" />
<line x1="694.3" y1="1276.5" x2="694.3" y2="1289" stroke="#646464" stroke-width="1.15" />
<line x1="758.4" y1="1699.5" x2="758.4" y2="1712.7" stroke="#646464" stroke-width="1.15" />
<line x1="758.4" y1="1276.5" x2="758.4" y2="1289" stroke="#646464" stroke-width="1.15" />
<text x="758.4" y="1757.5" font-size="28.8" text-anchor="middle" fill="#000" font-weight="normal" >SEP</text>
<line x1="822.4" y1="1699.5" x2="822.4" y2="1712.7" stroke="#646464" stroke-width="1.15" />
<line x1="822.4" y1="1276.5" x2="822.4" y2="1289" stroke="#646464" stroke-width="1.15" />
<line x1="886.5" y1="1699.5" x2="886.5" y2="1712.7" stroke="#646464" stroke-width="1.15" />
<line x1="886.5" y1="1276.5" x2="886.5" y2="1289" stroke="#646464" stroke-width="1.15" />
<text x="886.5" y="1757.5" font-size="28.8" text-anchor="middle" fill="#000" font-weight="normal" >NOV</text>
<line x1="950.5" y1="1699.5" x2="950.5" y2="1712.7" stroke="#646464" stroke-width="1.15" />
<line x1="950.5" y1="1276.5" x2="950.5" y2="1289" stroke="#646464" stroke-width="1.15" />
<polyline points="246,1595.4 310.1,1597.8 374.1,1562.2 438.1,1571.2 502.2,1612.6 566.2,1641.7 630.3,1667.9 694.3,1689.7 758.4,1665.9 822.4,1517.9 886.5,1498.2 950.5,1576.5" fill="none" stroke="#3aa63a" stroke-width="1.1"/>
<path d="M239 1595.4H253M246 1588.4V1602.4" stroke="#3aa63a" stroke-width="1" fill="none"/>
<path d="M303.1 1597.8H317.1M310.1 1590.8V1604.8" stroke="#3aa63a" stroke-width="1" fill="none"/>
<path d="M367.1 1562.2H381.1M374.1 1555.2V1569.2" stroke="#3aa63a" stroke-width="1" fill="none"/>
<path d="M431.1 1571.2H445.1M438.1 1564.2V1578.2" stroke="#3aa63a" stroke-width="1" fill="none"/>
<path d="M495.2 1612.6H509.2M502.2 1605.6V1619.6" stroke="#3aa63a" stroke-width="1" fill="none"/>
<path d="M559.2 1641.7H573.2M566.2 1634.7V1648.7" stroke="#3aa63a" stroke-width="1" fill="none"/>
<path d="M623.3 1667.9H637.3M630.3 1660.9V1674.9" stroke="#3aa63a" stroke-width="1" fill="none"/>
<path d="M687.3 1689.7H701.3M694.3 1682.7V1696.7" stroke="#3aa63a" stroke-width="1" fill="none"/>
<path d="M751.4 1665.9H765.4M758.4 1658.9V1672.9" stroke="#3aa63a" stroke-width="1" fill="none"/>
<path d="M815.4 1517.9H829.4M822.4 1510.9V1524.9" stroke="#3aa63a" stroke-width="1" fill="none"/>
<path d="M879.5 1498.2H893.5M886.5 1491.2V1505.2" stroke="#3aa63a" stroke-width="1" fill="none"/>
<path d="M943.5 1576.5H957.5M950.5 1569.5V1583.5" stroke="#3aa63a" stroke-width="1" fill="none"/>
<polyline points="246,1574.5 310.1,1579 374.1,1540.4 438.1,1540.4 502.2,1549 566.2,1614.6 630.3,1681.5 694.3,1689.7 758.4,1586.3 822.4,1293.2 886.5,1442.8 950.5,1551.5" fill="none" stroke="#e83ae8" stroke-width="1.1"/>
<path d="M239.5 1568L252.5 1581M239.5 1581L252.5 1568" stroke="#e83ae8" stroke-width="1" fill="none"/>
<path d="M303.6 1572.5L316.6 1585.5M303.6 1585.5L316.6 1572.5" stroke="#e83ae8" stroke-width="1" fill="none"/>
<path d="M367.6 1533.9L380.6 1546.9M367.6 1546.9L380.6 1533.9" stroke="#e83ae8" stroke-width="1" fill="none"/>
<path d="M431.6 1533.9L444.6 1546.9M431.6 1546.9L444.6 1533.9" stroke="#e83ae8" stroke-width="1" fill="none"/>
<path d="M495.7 1542.5L508.7 1555.5M495.7 1555.5L508.7 1542.5" stroke="#e83ae8" stroke-width="1" fill="none"/>
<path d="M559.8 1608.1L572.8 1621.1M559.8 1621.1L572.8 1608.1" stroke="#e83ae8" stroke-width="1" fill="none"/>
<path d="M623.8 1675L636.8 1688M623.8 1688L636.8 1675" stroke="#e83ae8" stroke-width="1" fill="none"/>
<path d="M687.8 1683.2L700.8 1696.2M687.8 1696.2L700.8 1683.2" stroke="#e83ae8" stroke-width="1" fill="none"/>
<path d="M751.9 1579.8L764.9 1592.8M751.9 1592.8L764.9 1579.8" stroke="#e83ae8" stroke-width="1" fill="none"/>
<path d="M815.9 1286.7L828.9 1299.7M815.9 1299.7L828.9 1286.7" stroke="#e83ae8" stroke-width="1" fill="none"/>
<path d="M880 1436.3L893 1449.3M880 1449.3L893 1436.3" stroke="#e83ae8" stroke-width="1" fill="none"/>
<path d="M944 1545L957 1558M944 1558L957 1545" stroke="#e83ae8" stroke-width="1" fill="none"/>
<text transform="translate(97 1494) rotate(-90)" font-size="29" text-anchor="middle" fill="#000">Lake Ohrid</text>
<text transform="translate(132 1494) rotate(-90)" font-size="29" text-anchor="middle" fill="#000">precipitation (cm yr<tspan dy="-10" font-size="18">-1</tspan><tspan dy="10">)</tspan></text>
<text x="4" y="1332.5" font-size="31" text-anchor="start" fill="#000" font-weight="bold" >d</text>
<text x="223" y="1331" font-size="29.1" text-anchor="start" fill="#000" font-weight="normal" >Mean seasonal cycle of simulated</text>
<text x="223" y="1373" font-size="29.1" text-anchor="start" fill="#000" font-weight="normal" >precipitation:</text>
<text x="335" y="1415" font-size="29.1" text-anchor="start" fill="#1f8a1f" font-weight="normal" ><tspan font-weight="bold">−</tspan> all years</text>
<text x="335" y="1456" font-size="29.1" text-anchor="start" fill="#f01ef0" font-weight="normal" ><tspan font-weight="bold">−</tspan> years above 2xSTD</text>
<line x1="1237" y1="1497.5" x2="2008.5" y2="1497.5" stroke="#a6a6a6" stroke-width="1.3" stroke-dasharray="16.6 9.8"/>
<rect x="1237" y="1291.5" width="771.5" height="412.70000000000005" fill="none" stroke="#646464" stroke-width="1.15"/>
<line x1="1237" y1="1291.5" x2="1237" y2="1704.2" stroke="#2a2a2a" stroke-width="1.2" />
<line x1="1224" y1="1703.5" x2="1237" y2="1703.5" stroke="#646464" stroke-width="1.15" />
<line x1="2008.5" y1="1703.5" x2="2021.5" y2="1703.5" stroke="#646464" stroke-width="1.15" />
<line x1="1224" y1="1662.3" x2="1237" y2="1662.3" stroke="#646464" stroke-width="1.15" />
<line x1="2008.5" y1="1662.3" x2="2021.5" y2="1662.3" stroke="#646464" stroke-width="1.15" />
<text x="1217" y="1673.1" font-size="28.2" text-anchor="end" fill="#000" font-weight="normal" >-40</text>
<line x1="1224" y1="1621.1" x2="1237" y2="1621.1" stroke="#646464" stroke-width="1.15" />
<line x1="2008.5" y1="1621.1" x2="2021.5" y2="1621.1" stroke="#646464" stroke-width="1.15" />
<line x1="1224" y1="1579.9" x2="1237" y2="1579.9" stroke="#646464" stroke-width="1.15" />
<line x1="2008.5" y1="1579.9" x2="2021.5" y2="1579.9" stroke="#646464" stroke-width="1.15" />
<text x="1217" y="1590.7" font-size="28.2" text-anchor="end" fill="#000" font-weight="normal" >-20</text>
<line x1="1224" y1="1538.7" x2="1237" y2="1538.7" stroke="#646464" stroke-width="1.15" />
<line x1="2008.5" y1="1538.7" x2="2021.5" y2="1538.7" stroke="#646464" stroke-width="1.15" />
<line x1="1224" y1="1497.5" x2="1237" y2="1497.5" stroke="#646464" stroke-width="1.15" />
<line x1="2008.5" y1="1497.5" x2="2021.5" y2="1497.5" stroke="#646464" stroke-width="1.15" />
<text x="1217" y="1508.3" font-size="28.2" text-anchor="end" fill="#000" font-weight="normal" >0</text>
<line x1="1224" y1="1456.3" x2="1237" y2="1456.3" stroke="#646464" stroke-width="1.15" />
<line x1="2008.5" y1="1456.3" x2="2021.5" y2="1456.3" stroke="#646464" stroke-width="1.15" />
<line x1="1224" y1="1415.1" x2="1237" y2="1415.1" stroke="#646464" stroke-width="1.15" />
<line x1="2008.5" y1="1415.1" x2="2021.5" y2="1415.1" stroke="#646464" stroke-width="1.15" />
<text x="1217" y="1425.9" font-size="28.2" text-anchor="end" fill="#000" font-weight="normal" >20</text>
<line x1="1224" y1="1373.9" x2="1237" y2="1373.9" stroke="#646464" stroke-width="1.15" />
<line x1="2008.5" y1="1373.9" x2="2021.5" y2="1373.9" stroke="#646464" stroke-width="1.15" />
<line x1="1224" y1="1332.7" x2="1237" y2="1332.7" stroke="#646464" stroke-width="1.15" />
<line x1="2008.5" y1="1332.7" x2="2021.5" y2="1332.7" stroke="#646464" stroke-width="1.15" />
<text x="1217" y="1343.5" font-size="28.2" text-anchor="end" fill="#000" font-weight="normal" >40</text>
<line x1="1224" y1="1291.5" x2="1237" y2="1291.5" stroke="#646464" stroke-width="1.15" />
<line x1="2008.5" y1="1291.5" x2="2021.5" y2="1291.5" stroke="#646464" stroke-width="1.15" />
<line x1="1268.5" y1="1704.2" x2="1268.5" y2="1716.7" stroke="#646464" stroke-width="1.15" />
<line x1="1268.5" y1="1278.5" x2="1268.5" y2="1291.5" stroke="#646464" stroke-width="1.15" />
<text x="1268.5" y="1760" font-size="28.8" text-anchor="middle" fill="#000" font-weight="normal" >JAN</text>
<line x1="1332.9" y1="1704.2" x2="1332.9" y2="1716.7" stroke="#646464" stroke-width="1.15" />
<line x1="1332.9" y1="1278.5" x2="1332.9" y2="1291.5" stroke="#646464" stroke-width="1.15" />
<line x1="1397.2" y1="1704.2" x2="1397.2" y2="1716.7" stroke="#646464" stroke-width="1.15" />
<line x1="1397.2" y1="1278.5" x2="1397.2" y2="1291.5" stroke="#646464" stroke-width="1.15" />
<text x="1397.2" y="1760" font-size="28.8" text-anchor="middle" fill="#000" font-weight="normal" >MAR</text>
<line x1="1461.6" y1="1704.2" x2="1461.6" y2="1716.7" stroke="#646464" stroke-width="1.15" />
<line x1="1461.6" y1="1278.5" x2="1461.6" y2="1291.5" stroke="#646464" stroke-width="1.15" />
<line x1="1525.9" y1="1704.2" x2="1525.9" y2="1716.7" stroke="#646464" stroke-width="1.15" />
<line x1="1525.9" y1="1278.5" x2="1525.9" y2="1291.5" stroke="#646464" stroke-width="1.15" />
<text x="1525.9" y="1760" font-size="28.8" text-anchor="middle" fill="#000" font-weight="normal" >MAY</text>
<line x1="1590.3" y1="1704.2" x2="1590.3" y2="1716.7" stroke="#646464" stroke-width="1.15" />
<line x1="1590.3" y1="1278.5" x2="1590.3" y2="1291.5" stroke="#646464" stroke-width="1.15" />
<line x1="1654.7" y1="1704.2" x2="1654.7" y2="1716.7" stroke="#646464" stroke-width="1.15" />
<line x1="1654.7" y1="1278.5" x2="1654.7" y2="1291.5" stroke="#646464" stroke-width="1.15" />
<text x="1654.7" y="1760" font-size="28.8" text-anchor="middle" fill="#000" font-weight="normal" >JUL</text>
<line x1="1719" y1="1704.2" x2="1719" y2="1716.7" stroke="#646464" stroke-width="1.15" />
<line x1="1719" y1="1278.5" x2="1719" y2="1291.5" stroke="#646464" stroke-width="1.15" />
<line x1="1783.4" y1="1704.2" x2="1783.4" y2="1716.7" stroke="#646464" stroke-width="1.15" />
<line x1="1783.4" y1="1278.5" x2="1783.4" y2="1291.5" stroke="#646464" stroke-width="1.15" />
<text x="1783.4" y="1760" font-size="28.8" text-anchor="middle" fill="#000" font-weight="normal" >SEP</text>
<line x1="1847.7" y1="1704.2" x2="1847.7" y2="1716.7" stroke="#646464" stroke-width="1.15" />
<line x1="1847.7" y1="1278.5" x2="1847.7" y2="1291.5" stroke="#646464" stroke-width="1.15" />
<line x1="1912.1" y1="1704.2" x2="1912.1" y2="1716.7" stroke="#646464" stroke-width="1.15" />
<line x1="1912.1" y1="1278.5" x2="1912.1" y2="1291.5" stroke="#646464" stroke-width="1.15" />
<text x="1912.1" y="1760" font-size="28.8" text-anchor="middle" fill="#000" font-weight="normal" >NOV</text>
<line x1="1976.5" y1="1704.2" x2="1976.5" y2="1716.7" stroke="#646464" stroke-width="1.15" />
<line x1="1976.5" y1="1278.5" x2="1976.5" y2="1291.5" stroke="#646464" stroke-width="1.15" />
<polyline points="1268.5,1491.3 1332.9,1493.4 1397.2,1476.1 1461.6,1485.1 1525.9,1539.9 1590.3,1558.1 1654.7,1591 1719,1605 1783.4,1583.2 1847.7,1359.9 1912.1,1326.5 1976.5,1463.3" fill="none" stroke="#f03c3c" stroke-width="1.1"/>
<path d="M1261.5 1491.3H1275.5M1268.5 1484.3V1498.3" stroke="#f03c3c" stroke-width="1" fill="none"/>
<path d="M1325.9 1493.4H1339.9M1332.9 1486.4V1500.4" stroke="#f03c3c" stroke-width="1" fill="none"/>
<path d="M1390.2 1476.1H1404.2M1397.2 1469.1V1483.1" stroke="#f03c3c" stroke-width="1" fill="none"/>
<path d="M1454.6 1485.1H1468.6M1461.6 1478.1V1492.1" stroke="#f03c3c" stroke-width="1" fill="none"/>
<path d="M1518.9 1539.9H1532.9M1525.9 1532.9V1546.9" stroke="#f03c3c" stroke-width="1" fill="none"/>
<path d="M1583.3 1558.1H1597.3M1590.3 1551.1V1565.1" stroke="#f03c3c" stroke-width="1" fill="none"/>
<path d="M1647.7 1591H1661.7M1654.7 1584V1598" stroke="#f03c3c" stroke-width="1" fill="none"/>
<path d="M1712 1605H1726M1719 1598V1612" stroke="#f03c3c" stroke-width="1" fill="none"/>
<path d="M1776.4 1583.2H1790.4M1783.4 1576.2V1590.2" stroke="#f03c3c" stroke-width="1" fill="none"/>
<path d="M1840.7 1359.9H1854.7M1847.7 1352.9V1366.9" stroke="#f03c3c" stroke-width="1" fill="none"/>
<path d="M1905.1 1326.5H1919.1M1912.1 1319.5V1333.5" stroke="#f03c3c" stroke-width="1" fill="none"/>
<path d="M1969.5 1463.3H1983.5M1976.5 1456.3V1470.3" stroke="#f03c3c" stroke-width="1" fill="none"/>
<polyline points="1268.5,1471.1 1332.9,1454.7 1397.2,1502.9 1461.6,1498.3 1525.9,1511.1 1590.3,1589 1654.7,1656.9 1719,1656.1 1783.4,1527.2 1847.7,1426.6 1912.1,1307.2 1976.5,1371" fill="none" stroke="#2c34e0" stroke-width="1.1"/>
<path d="M1262 1464.6L1275 1477.6M1262 1477.6L1275 1464.6" stroke="#2c34e0" stroke-width="1" fill="none"/>
<path d="M1326.4 1448.2L1339.4 1461.2M1326.4 1461.2L1339.4 1448.2" stroke="#2c34e0" stroke-width="1" fill="none"/>
<path d="M1390.7 1496.4L1403.7 1509.4M1390.7 1509.4L1403.7 1496.4" stroke="#2c34e0" stroke-width="1" fill="none"/>
<path d="M1455.1 1491.8L1468.1 1504.8M1455.1 1504.8L1468.1 1491.8" stroke="#2c34e0" stroke-width="1" fill="none"/>
<path d="M1519.4 1504.6L1532.4 1517.6M1519.4 1517.6L1532.4 1504.6" stroke="#2c34e0" stroke-width="1" fill="none"/>
<path d="M1583.8 1582.5L1596.8 1595.5M1583.8 1595.5L1596.8 1582.5" stroke="#2c34e0" stroke-width="1" fill="none"/>
<path d="M1648.2 1650.4L1661.2 1663.4M1648.2 1663.4L1661.2 1650.4" stroke="#2c34e0" stroke-width="1" fill="none"/>
<path d="M1712.5 1649.6L1725.5 1662.6M1712.5 1662.6L1725.5 1649.6" stroke="#2c34e0" stroke-width="1" fill="none"/>
<path d="M1776.9 1520.7L1789.9 1533.7M1776.9 1533.7L1789.9 1520.7" stroke="#2c34e0" stroke-width="1" fill="none"/>
<path d="M1841.2 1420.1L1854.2 1433.1M1841.2 1433.1L1854.2 1420.1" stroke="#2c34e0" stroke-width="1" fill="none"/>
<path d="M1905.6 1300.7L1918.6 1313.7M1905.6 1313.7L1918.6 1300.7" stroke="#2c34e0" stroke-width="1" fill="none"/>
<path d="M1970 1364.5L1983 1377.5M1970 1377.5L1983 1364.5" stroke="#2c34e0" stroke-width="1" fill="none"/>
<text transform="translate(1128 1499) rotate(-90)" font-size="29" text-anchor="middle" fill="#000">Lake Ohrid</text>
<text transform="translate(1164 1499) rotate(-90)" font-size="29" text-anchor="middle" fill="#000">precipitation anomaly (cm yr<tspan dy="-10" font-size="18">-1</tspan><tspan dy="10">)</tspan></text>
<text x="1079.5" y="1332.5" font-size="31" text-anchor="start" fill="#000" font-weight="bold" >e</text>
<text x="1246" y="1321.5" font-size="29.1" text-anchor="start" fill="#000" font-weight="normal" >Mean seasonal cycle of simulated</text>
<text x="1246" y="1363" font-size="29.1" text-anchor="start" fill="#000" font-weight="normal" >precipitation (annual mean removed):</text>
<text x="1245.5" y="1574" font-size="25.05" text-anchor="start" fill="#e82020" font-weight="normal" ><tspan font-weight="bold">−</tspan> LOVECLIM (1-0 ka)</text>
<text x="1271.5" y="1611" font-size="25.05" text-anchor="start" fill="#e82020" font-weight="normal" >(annual mean: 28 cm&#160;&#160;yr&#160;<tspan dy="-9" font-size="16">-1</tspan><tspan dy="9">)</tspan></text>
<text x="1245.5" y="1649" font-size="25.05" text-anchor="start" fill="#3060e0" font-weight="normal" ><tspan font-weight="bold">−</tspan> NOAA Climatology</text>
<text x="1271.5" y="1686" font-size="25.05" text-anchor="start" fill="#3060e0" font-weight="normal" >1979-2017 (annual mean: 83 cm&#160;&#160;yr&#160;<tspan dy="-9" font-size="16">-1</tspan><tspan dy="9">)</tspan></text>
</svg>
</body></html>
